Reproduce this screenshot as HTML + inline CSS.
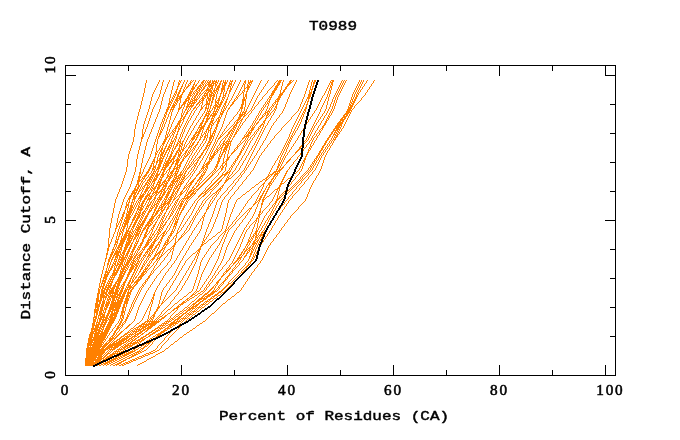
<!DOCTYPE html>
<html><head><meta charset="utf-8"><title>T0989</title>
<style>
html,body{margin:0;padding:0;background:#fff;}
body{width:680px;height:440px;overflow:hidden;position:relative;}
svg{position:absolute;left:0;top:0;display:block;}
.o{fill:none;stroke:#ff8000;stroke-width:1;shape-rendering:crispEdges;}
.k{fill:none;stroke:#000;stroke-width:1;shape-rendering:crispEdges;}
.f{fill:none;stroke:#000;stroke-width:1;shape-rendering:crispEdges;}
.m{font-family:"Liberation Mono","DejaVu Sans Mono",monospace;font-weight:normal;font-size:13.7px;fill:#000;stroke:#000;stroke-width:0.45px;}
.t{font-family:"Liberation Serif","DejaVu Serif",serif;font-weight:normal;font-size:15.2px;fill:#000;stroke:#000;stroke-width:0.55px;letter-spacing:1.8px;}
</style></head><body>
<svg width="680" height="440" viewBox="0 0 680 440">
<rect x="0" y="0" width="680" height="440" fill="#fff"/>
<g id="curves">
<path class="o" d="M146 80.5h1m12 0h1m3 0h1m5 0h1m4 0h1m4 0h1m1 0h1m2 0h1m2 0h1m3 0h1m1 0h1m1 0h1m3 0h1m3 0h2m1 0h1m1 0h1m1 0h1m1 0h1m1 0h1m1 0h1m1 0h1m2 0h1m1 0h1m1 0h1m1 0h1m2 0h1m1 0h1m2 0h1m4 0h1m4 0h1m2 0h1m1 0h1m1 0h1m8 0h1m6 0h1m8 0h1m1 0h3m1 0h1m6 0h2m1 0h1m2 0h1m12 0h1m2 0h1m1 0h2m15 0h3m8 0h1m1 0h1m1 0h1m12 0h1m1 0h1m1 0h1m3 0h1m6 0h1m-229 1h1m12 0h1m3 0h1m5 0h1m4 0h1m4 0h2m3 0h1m2 0h1m2 0h1m1 0h1m2 0h1m2 0h1m3 0h2m1 0h1m1 0h1m1 0h2m1 0h5m1 0h1m1 0h2m1 0h1m1 0h1m1 0h1m2 0h3m2 0h1m4 0h1m3 0h2m2 0h1m1 0h3m7 0h1m6 0h1m8 0h1m1 0h3m2 0h1m5 0h2m1 0h1m3 0h1m12 0h1m2 0h1m1 0h2m14 0h1m1 0h2m7 0h1m1 0h1m1 0h1m13 0h1m1 0h1m1 0h1m2 0h1m6 0h1m-228 1h1m11 0h1m3 0h1m5 0h1m4 0h1m4 0h1m1 0h1m2 0h1m2 0h1m3 0h2m2 0h1m3 0h1m2 0h3m1 0h1m1 0h4m1 0h2m1 0h3m2 0h1m2 0h4m2 0h1m1 0h1m2 0h1m4 0h1m4 0h2m2 0h4m8 0h1m6 0h1m7 0h1m2 0h3m1 0h1m6 0h3m3 0h1m12 0h1m2 0h1m1 0h2m15 0h3m8 0h1m1 0h1m1 0h1m12 0h1m1 0h1m1 0h1m3 0h1m6 0h1m-229 1h1m12 0h1m3 0h1m5 0h1m4 0h1m4 0h2m3 0h1m2 0h1m2 0h2m3 0h1m2 0h1m3 0h2m1 0h1m1 0h1m1 0h2m1 0h5m1 0h1m1 0h2m1 0h1m1 0h3m2 0h3m2 0h1m4 0h1m3 0h1m1 0h1m2 0h2m1 0h1m7 0h1m6 0h1m7 0h1m2 0h3m2 0h1m5 0h3m4 0h1m12 0h1m2 0h1m1 0h2m14 0h1m1 0h2m7 0h1m1 0h1m1 0h1m13 0h1m1 0h1m1 0h1m2 0h1m6 0h1m-228 1h1m11 0h1m4 0h1m4 0h1m5 0h1m4 0h2m2 0h1m2 0h1m2 0h1m1 0h1m2 0h2m1 0h1m3 0h1m1 0h2m1 0h1m1 0h5m1 0h1m1 0h2m2 0h2m1 0h1m1 0h2m3 0h3m1 0h1m4 0h1m4 0h2m2 0h1m1 0h2m8 0h1m5 0h1m8 0h1m2 0h3m2 0h1m4 0h3m4 0h1m13 0h1m2 0h1m1 0h1m15 0h1m1 0h2m7 0h1m1 0h1m1 0h1m12 0h1m1 0h1m1 0h1m2 0h1m6 0h1m-227 1h1m11 0h1m4 0h1m4 0h1m5 0h1m4 0h1m3 0h1m2 0h1m2 0h2m3 0h1m1 0h2m2 0h3m1 0h1m1 0h2m1 0h6m1 0h2m1 0h2m2 0h4m2 0h2m1 0h1m1 0h1m4 0h1m3 0h1m1 0h1m2 0h2m1 0h1m7 0h1m6 0h1m7 0h1m2 0h3m3 0h1m4 0h2m5 0h1m12 0h1m3 0h1m1 0h1m14 0h1m1 0h1m1 0h1m6 0h1m1 0h1m1 0h1m13 0h1m1 0h1m1 0h1m2 0h1m6 0h1m-227 1h1m10 0h1m4 0h1m5 0h1m4 0h1m4 0h2m2 0h2m2 0h1m1 0h2m3 0h2m1 0h1m2 0h3m1 0h1m1 0h2m2 0h5m2 0h1m1 0h3m2 0h3m3 0h3m1 0h1m4 0h1m4 0h1m1 0h1m2 0h3m8 0h1m5 0h1m7 0h1m2 0h3m3 0h1m4 0h2m5 0h1m13 0h1m2 0h1m1 0h2m14 0h1m1 0h2m7 0h1m1 0h1m1 0h1m12 0h1m1 0h1m1 0h1m2 0h1m6 0h1m-226 1h1m10 0h1m4 0h1m4 0h1m5 0h1m4 0h1m3 0h1m2 0h1m1 0h2m4 0h3m2 0h2m1 0h2m1 0h2m2 0h1m1 0h1m1 0h2m2 0h1m1 0h3m2 0h3m3 0h1m1 0h1m1 0h1m4 0h1m3 0h1m2 0h1m1 0h4m7 0h1m5 0h1m7 0h1m3 0h3m3 0h1m3 0h2m6 0h1m13 0h1m2 0h1m1 0h1m14 0h1m2 0h2m6 0h1m1 0h1m1 0h1m13 0h1m1 0h1m1 0h1m1 0h1m6 0h1m-226 1h1m10 0h1m5 0h1m4 0h1m5 0h1m4 0h1m2 0h2m2 0h1m1 0h1m4 0h4m2 0h3m1 0h1m1 0h2m2 0h2m1 0h3m1 0h1m1 0h3m2 0h4m2 0h2m1 0h2m4 0h1m4 0h1m2 0h2m1 0h2m8 0h1m5 0h1m6 0h1m3 0h3m4 0h1m3 0h2m5 0h1m13 0h1m3 0h1m1 0h1m14 0h1m1 0h1m1 0h1m6 0h1m1 0h1m1 0h1m12 0h1m1 0h1m1 0h1m2 0h1m6 0h1m-226 1h1m10 0h1m5 0h1m3 0h1m6 0h1m3 0h2m2 0h1m2 0h1m1 0h1m5 0h3m2 0h2m1 0h2m1 0h2m2 0h5m1 0h1m1 0h1m1 0h3m2 0h4m2 0h1m2 0h2m4 0h1m3 0h1m3 0h1m2 0h2m7 0h1m5 0h1m6 0h1m4 0h3m4 0h1m2 0h2m6 0h1m13 0h1m3 0h3m13 0h1m2 0h1m1 0h1m5 0h1m1 0h1m1 0h1m13 0h1m1 0h1m1 0h1m1 0h1m6 0h1m-225 1h1m9 0h1m5 0h1m4 0h1m5 0h1m4 0h1m2 0h2m2 0h2m5 0h1m1 0h1m2 0h2m1 0h2m1 0h2m2 0h7m1 0h4m1 0h1m2 0h2m1 0h1m2 0h1m1 0h2m4 0h1m4 0h1m2 0h2m2 0h1m8 0h1m4 0h1m6 0h1m4 0h3m4 0h1m2 0h2m6 0h1m14 0h1m2 0h1m1 0h1m14 0h1m2 0h2m6 0h1m1 0h1m1 0h1m12 0h1m1 0h1m1 0h1m1 0h1m6 0h1m-224 1h1m9 0h1m5 0h1m4 0h1m5 0h1m3 0h2m2 0h2m2 0h2m5 0h3m1 0h1m1 0h2m1 0h1m1 0h1m2 0h1m1 0h1m1 0h4m1 0h2m1 0h2m3 0h2m1 0h1m1 0h1m2 0h2m4 0h1m3 0h1m2 0h1m1 0h1m1 0h2m7 0h1m5 0h1m5 0h1m4 0h3m5 0h1m2 0h2m6 0h1m13 0h1m3 0h1m1 0h1m13 0h1m2 0h1m1 0h1m5 0h1m1 0h1m1 0h1m13 0h1m1 0h1m1 0h1m1 0h1m6 0h1m-224 1h1m8 0h1m6 0h1m3 0h1m6 0h1m3 0h2m1 0h2m2 0h2m5 0h3m1 0h1m1 0h1m1 0h2m1 0h1m2 0h1m1 0h1m1 0h2m1 0h3m1 0h2m1 0h1m3 0h1m1 0h1m2 0h1m2 0h1m4 0h1m4 0h1m2 0h2m2 0h1m8 0h1m4 0h1m6 0h1m4 0h3m5 0h1m1 0h2m6 0h1m14 0h1m3 0h3m13 0h1m2 0h1m1 0h1m5 0h1m1 0h1m1 0h1m12 0h1m1 0h1m1 0h1m1 0h1m6 0h1m-224 1h1m9 0h1m6 0h1m3 0h1m6 0h1m2 0h1m1 0h1m1 0h2m2 0h1m6 0h3m1 0h2m1 0h2m1 0h2m1 0h1m1 0h4m1 0h1m1 0h3m1 0h1m1 0h1m2 0h2m1 0h1m1 0h2m2 0h1m4 0h1m3 0h1m2 0h1m1 0h1m2 0h1m7 0h1m4 0h1m6 0h1m4 0h3m6 0h3m7 0h1m14 0h1m3 0h3m12 0h1m3 0h1m1 0h1m4 0h1m1 0h1m1 0h1m13 0h1m1 0h1m1 0h2m6 0h1m-223 1h1m8 0h1m6 0h1m3 0h1m6 0h1m3 0h2m1 0h2m2 0h2m5 0h3m1 0h1m1 0h1m1 0h2m1 0h1m1 0h1m2 0h1m1 0h2m1 0h3m1 0h2m1 0h1m3 0h1m2 0h1m1 0h1m2 0h1m4 0h1m4 0h1m1 0h1m2 0h1m1 0h2m7 0h1m4 0h1m5 0h1m5 0h3m5 0h4m6 0h1m14 0h1m3 0h3m13 0h1m2 0h1m1 0h1m5 0h1m1 0h1m1 0h1m12 0h1m1 0h1m1 0h1m1 0h1m6 0h1m-223 1h1m8 0h1m6 0h1m3 0h1m6 0h1m2 0h1m1 0h1m1 0h2m1 0h2m6 0h4m1 0h1m1 0h2m1 0h1m1 0h1m2 0h5m1 0h6m1 0h1m3 0h1m2 0h3m2 0h1m4 0h1m3 0h1m1 0h1m3 0h1m1 0h2m6 0h1m4 0h1m5 0h1m5 0h3m6 0h3m7 0h1m14 0h1m3 0h3m12 0h1m3 0h1m1 0h1m4 0h1m1 0h1m1 0h1m13 0h1m1 0h1m1 0h2m6 0h1m-222 1h1m8 0h1m6 0h1m3 0h1m6 0h1m2 0h2m2 0h5m5 0h2m1 0h1m1 0h1m1 0h2m1 0h1m1 0h1m2 0h1m1 0h2m1 0h1m1 0h3m1 0h2m1 0h1m2 0h2m2 0h1m1 0h1m2 0h1m3 0h1m3 0h1m1 0h1m4 0h1m1 0h2m6 0h1m3 0h1m5 0h1m5 0h1m1 0h1m6 0h3m8 0h1m14 0h1m3 0h3m11 0h1m4 0h1m1 0h1m4 0h1m1 0h1m1 0h1m13 0h1m1 0h1m1 0h2m5 0h1m-222 1h1m8 0h1m6 0h1m3 0h1m7 0h1m1 0h1m1 0h1m1 0h2m1 0h3m5 0h3m2 0h1m1 0h2m1 0h1m1 0h1m2 0h2m1 0h1m1 0h2m1 0h1m1 0h2m2 0h1m2 0h1m2 0h3m2 0h1m4 0h1m3 0h2m5 0h2m1 0h1m5 0h1m4 0h1m4 0h1m6 0h3m6 0h3m7 0h1m14 0h1m3 0h3m12 0h1m3 0h1m1 0h1m4 0h1m1 0h1m1 0h1m13 0h1m1 0h1m1 0h2m5 0h1m-221 1h1m8 0h1m6 0h1m3 0h1m6 0h1m2 0h2m2 0h5m5 0h4m1 0h1m1 0h2m1 0h1m1 0h1m2 0h4m2 0h4m1 0h2m2 0h1m1 0h2m2 0h1m1 0h1m2 0h1m3 0h1m3 0h1m1 0h1m5 0h2m1 0h1m5 0h1m3 0h1m5 0h1m5 0h1m1 0h1m6 0h3m8 0h1m14 0h1m3 0h3m11 0h1m4 0h1m1 0h1m4 0h1m1 0h1m1 0h1m13 0h1m1 0h1m1 0h2m4 0h1m-220 1h1m8 0h1m5 0h1m4 0h1m6 0h1m1 0h1m1 0h1m1 0h3m1 0h2m4 0h2m1 0h2m1 0h2m1 0h4m2 0h1m1 0h2m2 0h1m1 0h3m1 0h2m1 0h1m2 0h2m2 0h2m2 0h2m3 0h1m2 0h1m1 0h1m5 0h4m5 0h1m4 0h1m4 0h1m5 0h1m1 0h2m5 0h4m7 0h1m14 0h1m3 0h1m1 0h1m12 0h1m3 0h1m2 0h1m3 0h1m2 0h1m1 0h1m13 0h2m1 0h2m5 0h1m-220 1h1m8 0h1m5 0h1m4 0h1m6 0h1m1 0h2m2 0h4m1 0h1m4 0h4m1 0h1m1 0h5m2 0h1m1 0h3m2 0h1m1 0h3m1 0h1m2 0h1m1 0h3m1 0h1m1 0h1m2 0h1m3 0h1m3 0h2m6 0h4m5 0h1m3 0h1m4 0h1m6 0h1m1 0h1m5 0h1m1 0h2m8 0h1m14 0h1m3 0h1m1 0h1m11 0h1m4 0h1m2 0h1m3 0h1m1 0h1m1 0h1m13 0h1m1 0h1m1 0h2m4 0h1m-220 1h1m8 0h1m5 0h1m4 0h1m7 0h2m1 0h1m1 0h1m1 0h2m2 0h1m3 0h3m1 0h1m1 0h3m1 0h1m1 0h1m2 0h2m1 0h1m3 0h2m1 0h1m1 0h2m2 0h2m1 0h1m2 0h2m2 0h2m2 0h1m3 0h2m7 0h2m1 0h1m4 0h1m4 0h1m3 0h1m6 0h1m1 0h2m5 0h4m8 0h1m14 0h1m2 0h1m1 0h2m11 0h1m3 0h1m2 0h1m4 0h1m1 0h1m1 0h1m13 0h1m1 0h3m4 0h1m-219 1h1m8 0h1m5 0h1m4 0h1m7 0h3m2 0h2m1 0h1m2 0h1m2 0h3m2 0h3m1 0h4m2 0h2m1 0h2m3 0h2m1 0h1m1 0h2m2 0h4m1 0h3m2 0h2m2 0h1m2 0h2m8 0h2m1 0h1m4 0h1m3 0h1m3 0h1m6 0h1m1 0h1m1 0h1m4 0h2m1 0h1m8 0h1m14 0h1m3 0h1m1 0h1m11 0h1m4 0h1m2 0h1m3 0h1m2 0h1m1 0h1m13 0h2m1 0h2m3 0h1m-218 1h1m8 0h1m4 0h1m5 0h1m6 0h2m1 0h1m1 0h1m1 0h2m2 0h1m3 0h3m1 0h1m1 0h6m2 0h2m1 0h1m1 0h1m3 0h4m1 0h1m3 0h1m1 0h2m1 0h2m2 0h2m2 0h1m3 0h2m8 0h2m1 0h1m3 0h1m4 0h1m3 0h1m6 0h1m1 0h2m4 0h1m1 0h1m1 0h1m8 0h1m14 0h1m2 0h1m2 0h1m11 0h1m3 0h1m3 0h1m3 0h1m1 0h1m1 0h1m13 0h1m1 0h3m3 0h1m-217 1h1m8 0h1m4 0h1m5 0h1m6 0h3m2 0h2m1 0h1m2 0h1m2 0h3m2 0h3m1 0h1m1 0h1m2 0h2m1 0h1m2 0h1m2 0h5m1 0h1m3 0h2m1 0h4m2 0h2m2 0h1m2 0h2m8 0h3m1 0h1m3 0h1m3 0h1m3 0h1m6 0h1m1 0h1m1 0h1m3 0h1m1 0h1m1 0h2m7 0h1m14 0h1m3 0h1m1 0h2m10 0h1m4 0h1m3 0h1m2 0h1m2 0h1m1 0h1m13 0h2m1 0h2m2 0h1m-217 1h1m8 0h1m4 0h1m5 0h1m7 0h1m1 0h1m1 0h4m3 0h1m1 0h2m1 0h1m2 0h2m1 0h4m2 0h1m2 0h1m1 0h1m2 0h1m1 0h1m1 0h1m1 0h2m2 0h4m1 0h2m2 0h1m1 0h1m1 0h1m2 0h2m9 0h2m2 0h1m2 0h1m4 0h1m2 0h1m6 0h1m1 0h1m2 0h1m3 0h2m2 0h1m8 0h1m14 0h1m2 0h1m2 0h1m11 0h1m3 0h1m3 0h1m3 0h1m2 0h1m1 0h1m13 0h4m2 0h1m-216 1h1m8 0h1m4 0h1m5 0h1m7 0h2m2 0h3m4 0h1m1 0h1m2 0h1m1 0h7m2 0h1m2 0h1m2 0h1m1 0h1m2 0h1m1 0h1m1 0h1m2 0h1m1 0h6m2 0h2m1 0h1m3 0h1m10 0h2m2 0h1m2 0h1m3 0h1m2 0h1m7 0h1m1 0h1m1 0h1m3 0h1m1 0h1m1 0h2m8 0h1m14 0h1m2 0h1m2 0h1m10 0h1m4 0h1m3 0h1m3 0h1m1 0h1m1 0h1m13 0h1m1 0h3m1 0h1m-215 1h1m8 0h1m3 0h1m6 0h1m6 0h3m1 0h4m4 0h3m1 0h1m2 0h2m1 0h1m1 0h1m2 0h2m1 0h1m3 0h2m2 0h2m1 0h1m1 0h1m2 0h3m1 0h3m2 0h1m1 0h1m1 0h1m2 0h1m10 0h3m1 0h1m2 0h1m4 0h1m1 0h1m7 0h1m1 0h1m2 0h1m2 0h1m1 0h1m2 0h2m7 0h1m14 0h1m2 0h1m2 0h2m10 0h1m3 0h1m4 0h1m2 0h1m2 0h1m1 0h1m13 0h4m2 0h1m-215 1h1m8 0h1m3 0h1m6 0h1m6 0h2m2 0h1m1 0h1m4 0h3m2 0h1m2 0h1m1 0h1m1 0h1m2 0h2m1 0h1m4 0h2m2 0h4m1 0h1m1 0h1m1 0h2m1 0h1m1 0h1m2 0h1m1 0h2m2 0h2m10 0h3m1 0h1m2 0h1m3 0h1m2 0h1m6 0h1m1 0h1m3 0h1m1 0h1m1 0h1m2 0h1m1 0h1m7 0h1m14 0h1m2 0h1m2 0h2m9 0h1m4 0h1m4 0h1m2 0h1m2 0h1m1 0h1m13 0h4m1 0h1m-215 1h1m8 0h1m3 0h1m6 0h1m6 0h3m1 0h4m4 0h2m2 0h1m2 0h2m1 0h1m1 0h1m2 0h1m2 0h1m3 0h2m3 0h1m1 0h1m1 0h1m2 0h1m1 0h1m1 0h3m2 0h1m1 0h1m1 0h1m2 0h1m10 0h1m1 0h1m2 0h1m1 0h1m4 0h1m1 0h1m7 0h1m1 0h1m2 0h1m2 0h1m1 0h1m2 0h2m7 0h1m14 0h1m2 0h1m2 0h2m10 0h1m3 0h1m4 0h1m2 0h1m2 0h1m1 0h1m13 0h4m1 0h1m-214 1h1m8 0h1m3 0h1m6 0h1m6 0h2m2 0h1m1 0h1m5 0h1m3 0h1m2 0h1m1 0h1m1 0h1m2 0h1m2 0h1m4 0h1m4 0h1m1 0h1m1 0h1m1 0h1m2 0h1m1 0h1m1 0h1m2 0h1m1 0h2m2 0h1m11 0h1m1 0h1m2 0h1m1 0h1m3 0h1m1 0h1m7 0h1m1 0h1m3 0h1m1 0h1m1 0h1m2 0h1m1 0h1m7 0h1m14 0h1m2 0h1m2 0h2m9 0h1m4 0h1m4 0h1m2 0h1m2 0h1m1 0h1m13 0h5m-213 1h1m8 0h1m3 0h1m6 0h1m6 0h2m2 0h1m1 0h1m5 0h1m3 0h1m1 0h1m2 0h2m2 0h1m2 0h1m4 0h1m4 0h1m2 0h4m2 0h5m3 0h3m3 0h1m10 0h1m2 0h1m1 0h1m1 0h2m2 0h1m1 0h1m7 0h1m1 0h1m3 0h1m1 0h3m2 0h1m1 0h1m7 0h1m14 0h1m2 0h1m2 0h1m1 0h1m8 0h1m5 0h1m3 0h1m2 0h1m2 0h1m1 0h1m13 0h4m1 0h1m-214 1h1m8 0h1m3 0h1m6 0h1m6 0h2m2 0h1m1 0h1m5 0h1m4 0h1m1 0h1m1 0h2m3 0h1m2 0h1m4 0h1m4 0h1m1 0h1m1 0h1m1 0h1m2 0h1m1 0h1m1 0h1m2 0h1m1 0h2m2 0h1m10 0h1m2 0h1m1 0h4m2 0h1m2 0h1m7 0h1m1 0h1m3 0h3m1 0h1m1 0h1m2 0h1m7 0h1m13 0h1m3 0h1m2 0h2m9 0h1m4 0h1m4 0h1m2 0h1m2 0h1m1 0h1m13 0h5m-213 1h1m8 0h1m3 0h1m6 0h1m6 0h2m2 0h1m1 0h1m5 0h1m3 0h1m1 0h1m2 0h2m2 0h1m2 0h1m4 0h1m4 0h1m2 0h4m2 0h5m3 0h3m3 0h1m10 0h1m2 0h1m1 0h1m1 0h2m1 0h1m2 0h1m7 0h1m1 0h1m3 0h2m1 0h2m1 0h1m2 0h1m7 0h1m13 0h1m3 0h1m2 0h1m1 0h1m8 0h1m5 0h1m3 0h1m2 0h1m2 0h1m1 0h1m13 0h4m1 0h1m-213 1h1m8 0h1m3 0h1m5 0h1m6 0h1m1 0h1m1 0h1m2 0h1m4 0h1m4 0h1m1 0h1m1 0h2m3 0h1m2 0h1m4 0h1m3 0h1m2 0h2m1 0h2m1 0h1m1 0h4m3 0h3m3 0h1m9 0h1m2 0h6m1 0h1m2 0h1m8 0h1m1 0h1m2 0h1m1 0h1m1 0h2m1 0h1m2 0h1m6 0h1m13 0h1m4 0h1m2 0h2m8 0h1m5 0h1m3 0h1m3 0h1m2 0h1m1 0h1m12 0h4m1 0h1m-212 1h1m7 0h1m3 0h1m6 0h1m6 0h2m2 0h1m2 0h1m4 0h1m4 0h2m2 0h1m3 0h1m2 0h1m4 0h1m4 0h1m2 0h4m1 0h6m3 0h1m1 0h1m3 0h1m9 0h1m3 0h4m1 0h2m2 0h1m8 0h1m1 0h1m2 0h1m1 0h1m1 0h2m1 0h1m2 0h1m6 0h1m13 0h1m4 0h1m2 0h1m1 0h1m8 0h1m5 0h1m3 0h1m2 0h1m2 0h1m1 0h1m12 0h2m1 0h2m1 0h1m-213 1h1m8 0h1m3 0h1m6 0h1m6 0h2m2 0h1m1 0h1m4 0h1m5 0h2m1 0h2m3 0h1m1 0h1m4 0h1m4 0h1m2 0h2m1 0h2m1 0h1m1 0h3m4 0h1m1 0h1m3 0h1m8 0h1m4 0h3m1 0h2m3 0h1m7 0h1m1 0h1m3 0h2m2 0h1m1 0h1m2 0h1m7 0h1m12 0h1m5 0h1m2 0h1m1 0h1m7 0h1m5 0h1m3 0h1m2 0h1m3 0h2m13 0h4m1 0h1m-212 1h1m8 0h1m3 0h1m5 0h1m6 0h1m1 0h1m1 0h1m2 0h1m4 0h1m5 0h1m1 0h2m3 0h1m2 0h1m4 0h1m3 0h1m3 0h1m2 0h1m1 0h1m2 0h1m1 0h1m3 0h3m4 0h1m7 0h1m4 0h3m2 0h1m3 0h1m8 0h1m1 0h1m2 0h2m3 0h2m3 0h1m6 0h1m12 0h1m5 0h1m2 0h1m1 0h1m7 0h1m6 0h1m2 0h1m3 0h1m2 0h1m1 0h1m12 0h4m2 0h1m-212 1h1m7 0h1m3 0h1m6 0h1m6 0h2m2 0h1m2 0h1m3 0h1m5 0h2m1 0h2m3 0h1m1 0h1m4 0h1m4 0h1m2 0h2m1 0h4m1 0h3m3 0h2m1 0h1m3 0h1m8 0h1m4 0h3m1 0h1m3 0h1m8 0h1m1 0h1m2 0h2m3 0h2m3 0h1m6 0h1m13 0h1m5 0h1m2 0h1m1 0h1m7 0h1m5 0h1m3 0h1m2 0h1m3 0h2m12 0h2m1 0h2m1 0h1m-211 1h1m7 0h1m3 0h1m5 0h1m6 0h1m1 0h1m1 0h1m3 0h1m3 0h1m5 0h1m1 0h2m3 0h1m2 0h1m4 0h1m3 0h1m3 0h1m2 0h3m2 0h1m1 0h1m2 0h1m1 0h2m4 0h1m7 0h1m4 0h3m1 0h2m2 0h1m9 0h1m1 0h1m1 0h2m4 0h1m4 0h1m5 0h1m13 0h1m5 0h1m2 0h1m1 0h1m7 0h1m6 0h1m2 0h1m3 0h1m2 0h1m1 0h1m11 0h5m2 0h1m-212 1h1m8 0h1m3 0h1m5 0h1m6 0h1m1 0h1m1 0h1m2 0h1m3 0h1m5 0h3m1 0h1m3 0h1m1 0h1m4 0h1m3 0h1m3 0h2m2 0h2m3 0h3m2 0h1m1 0h2m4 0h1m6 0h1m4 0h3m1 0h2m3 0h1m8 0h1m1 0h1m2 0h1m4 0h2m3 0h1m6 0h1m12 0h1m6 0h1m2 0h1m1 0h1m6 0h1m6 0h1m2 0h1m3 0h1m3 0h2m12 0h4m2 0h1m-211 1h1m7 0h1m3 0h1m6 0h1m6 0h2m2 0h1m2 0h1m3 0h1m4 0h3m2 0h1m2 0h1m1 0h1m4 0h1m4 0h1m3 0h2m1 0h3m2 0h3m2 0h1m1 0h3m3 0h1m6 0h1m4 0h1m1 0h1m1 0h1m1 0h1m2 0h1m8 0h1m1 0h1m2 0h1m4 0h2m3 0h1m6 0h1m12 0h1m6 0h1m2 0h1m2 0h1m6 0h1m6 0h1m2 0h1m2 0h1m3 0h2m12 0h2m1 0h2m2 0h1m-211 1h1m7 0h1m3 0h1m5 0h1m6 0h1m1 0h1m1 0h1m3 0h1m2 0h1m5 0h3m1 0h1m3 0h1m1 0h1m4 0h1m3 0h1m3 0h2m2 0h2m3 0h3m1 0h1m2 0h2m4 0h1m5 0h1m4 0h1m1 0h3m1 0h1m2 0h1m9 0h1m1 0h1m1 0h2m4 0h2m3 0h1m5 0h1m12 0h1m7 0h1m2 0h1m1 0h1m6 0h1m6 0h1m2 0h1m3 0h1m3 0h2m11 0h5m2 0h1m-210 1h1m7 0h1m3 0h1m5 0h1m6 0h1m1 0h1m1 0h1m3 0h1m2 0h1m4 0h3m2 0h1m2 0h1m1 0h1m4 0h1m3 0h1m3 0h3m1 0h2m3 0h2m1 0h2m3 0h2m4 0h1m5 0h1m4 0h1m1 0h2m2 0h1m1 0h1m9 0h1m1 0h1m1 0h2m4 0h1m1 0h1m2 0h1m5 0h1m12 0h1m7 0h1m2 0h1m2 0h1m5 0h1m7 0h1m1 0h1m3 0h1m3 0h2m11 0h6m2 0h1m-211 1h1m7 0h1m3 0h1m5 0h1m6 0h1m1 0h1m1 0h1m3 0h1m2 0h1m5 0h3m1 0h1m3 0h1m1 0h1m4 0h1m3 0h1m3 0h2m2 0h2m3 0h3m1 0h1m2 0h2m4 0h1m5 0h1m4 0h1m1 0h2m2 0h1m2 0h1m9 0h1m1 0h1m1 0h1m4 0h3m3 0h1m5 0h1m11 0h1m8 0h1m2 0h1m1 0h1m6 0h1m6 0h1m2 0h1m3 0h1m3 0h2m11 0h5m2 0h1m-210 1h1m7 0h1m3 0h1m5 0h1m6 0h1m1 0h1m1 0h1m3 0h1m2 0h1m4 0h2m1 0h1m1 0h1m2 0h1m1 0h1m4 0h1m3 0h1m3 0h3m1 0h2m3 0h2m1 0h2m3 0h2m4 0h1m4 0h1m4 0h1m1 0h3m2 0h1m1 0h1m9 0h1m1 0h1m1 0h1m4 0h2m1 0h1m2 0h1m5 0h1m11 0h1m8 0h1m2 0h1m2 0h1m5 0h1m7 0h1m1 0h1m3 0h1m3 0h2m11 0h6m2 0h1m-210 1h1m7 0h1m3 0h1m5 0h1m6 0h1m1 0h1m1 0h1m3 0h1m2 0h1m3 0h3m1 0h2m3 0h1m1 0h1m3 0h1m3 0h1m4 0h1m1 0h4m3 0h2m1 0h1m4 0h2m4 0h1m3 0h1m4 0h1m1 0h2m1 0h1m1 0h1m1 0h1m9 0h1m1 0h1m1 0h1m4 0h2m2 0h1m1 0h1m5 0h1m11 0h1m9 0h1m2 0h1m1 0h1m5 0h1m7 0h1m1 0h1m3 0h1m3 0h2m11 0h5m1 0h1m1 0h1m-209 1h1m7 0h1m2 0h1m5 0h1m6 0h1m1 0h1m1 0h1m3 0h1m2 0h1m4 0h2m1 0h1m1 0h1m2 0h1m1 0h1m4 0h1m3 0h1m3 0h6m3 0h3m1 0h1m3 0h2m4 0h1m4 0h1m3 0h1m2 0h3m2 0h1m1 0h1m9 0h1m1 0h3m3 0h1m1 0h1m1 0h1m2 0h1m5 0h1m10 0h1m9 0h1m2 0h1m2 0h1m5 0h1m7 0h1m1 0h1m3 0h1m3 0h2m11 0h6m2 0h1m-209 1h1m7 0h1m2 0h1m5 0h1m6 0h1m1 0h1m1 0h1m3 0h1m2 0h1m3 0h3m1 0h2m3 0h1m1 0h1m3 0h1m3 0h1m4 0h1m1 0h4m3 0h2m1 0h2m3 0h2m4 0h1m3 0h1m3 0h1m2 0h2m1 0h1m1 0h1m1 0h1m9 0h1m1 0h3m4 0h2m2 0h1m1 0h1m5 0h1m10 0h1m10 0h1m2 0h1m1 0h1m5 0h1m7 0h1m1 0h1m3 0h1m3 0h2m11 0h5m1 0h1m1 0h1m-209 1h1m7 0h1m2 0h1m5 0h1m7 0h1m1 0h2m4 0h1m1 0h1m3 0h1m1 0h1m2 0h2m2 0h1m1 0h1m4 0h1m3 0h1m3 0h1m1 0h3m1 0h1m2 0h3m1 0h1m3 0h1m1 0h1m3 0h1m3 0h1m3 0h1m2 0h1m1 0h2m2 0h2m9 0h1m2 0h3m3 0h2m2 0h1m2 0h1m5 0h1m10 0h1m9 0h1m2 0h1m2 0h1m5 0h1m7 0h1m1 0h1m3 0h1m2 0h1m1 0h1m10 0h2m1 0h4m1 0h1m-208 1h1m7 0h1m2 0h1m5 0h1m6 0h1m1 0h1m1 0h1m4 0h1m1 0h1m2 0h1m1 0h2m2 0h1m3 0h1m1 0h1m3 0h1m3 0h1m4 0h1m1 0h2m1 0h1m3 0h1m1 0h3m3 0h2m4 0h1m3 0h1m2 0h1m2 0h3m1 0h1m1 0h1m1 0h1m9 0h1m1 0h3m3 0h1m1 0h1m2 0h1m1 0h1m5 0h1m10 0h1m10 0h1m2 0h1m1 0h1m5 0h1m7 0h1m1 0h1m3 0h1m2 0h1m1 0h1m11 0h5m1 0h1m1 0h1m-208 1h1m7 0h1m2 0h1m5 0h1m6 0h1m1 0h2m4 0h1m2 0h1m2 0h2m1 0h1m1 0h2m3 0h1m1 0h1m3 0h1m2 0h1m4 0h1m1 0h3m1 0h1m2 0h2m1 0h1m1 0h1m2 0h3m3 0h1m3 0h1m2 0h1m2 0h2m1 0h2m2 0h2m9 0h1m1 0h1m1 0h1m3 0h1m1 0h1m2 0h1m2 0h1m5 0h1m9 0h1m11 0h1m1 0h1m1 0h1m5 0h1m8 0h1m1 0h1m2 0h1m3 0h2m11 0h2m1 0h1m1 0h2m1 0h1m-207 1h1m7 0h1m1 0h1m5 0h1m7 0h1m1 0h2m4 0h1m1 0h1m2 0h1m1 0h2m2 0h1m3 0h1m1 0h1m3 0h1m3 0h1m3 0h5m2 0h1m1 0h1m1 0h1m1 0h1m1 0h1m2 0h1m1 0h1m3 0h1m2 0h1m2 0h1m2 0h2m1 0h1m1 0h1m1 0h2m9 0h1m1 0h4m2 0h1m1 0h1m3 0h1m1 0h1m5 0h1m9 0h1m11 0h1m2 0h1m1 0h1m5 0h1m7 0h1m1 0h1m3 0h1m2 0h1m1 0h1m10 0h2m1 0h3m1 0h2m-206 1h1m7 0h1m1 0h1m5 0h1m6 0h1m1 0h2m5 0h1m1 0h1m1 0h1m1 0h1m1 0h1m2 0h1m3 0h1m1 0h1m3 0h1m2 0h1m4 0h2m1 0h2m1 0h1m2 0h2m1 0h1m2 0h1m1 0h3m3 0h1m3 0h1m1 0h1m3 0h2m1 0h2m2 0h2m9 0h1m1 0h3m3 0h1m1 0h1m2 0h1m2 0h1m5 0h1m8 0h1m12 0h1m1 0h1m1 0h1m5 0h1m8 0h1m1 0h1m2 0h1m2 0h1m1 0h1m11 0h2m1 0h1m1 0h2m1 0h1m-206 1h1m7 0h2m5 0h1m7 0h1m1 0h2m5 0h2m1 0h1m2 0h2m2 0h2m2 0h1m1 0h1m3 0h1m3 0h1m3 0h2m1 0h2m2 0h1m1 0h1m1 0h1m1 0h1m2 0h1m1 0h1m1 0h1m3 0h1m2 0h1m1 0h1m3 0h2m1 0h1m1 0h1m1 0h2m9 0h1m1 0h2m1 0h1m2 0h1m1 0h1m3 0h1m1 0h1m5 0h1m8 0h1m12 0h1m2 0h1m1 0h1m5 0h1m7 0h1m1 0h1m3 0h1m1 0h1m2 0h1m10 0h2m1 0h3m1 0h2m-205 1h1m7 0h2m5 0h1m7 0h1m1 0h1m5 0h1m1 0h1m1 0h1m1 0h1m1 0h1m2 0h1m3 0h1m1 0h1m3 0h1m2 0h1m3 0h2m1 0h3m2 0h2m2 0h3m2 0h3m1 0h1m2 0h1m2 0h1m1 0h1m3 0h2m2 0h2m2 0h1m9 0h1m1 0h4m2 0h1m1 0h1m3 0h1m2 0h1m5 0h1m7 0h1m13 0h1m1 0h1m1 0h1m5 0h1m8 0h1m1 0h1m2 0h1m2 0h1m1 0h1m10 0h2m2 0h1m1 0h3m-204 1h1m7 0h2m5 0h1m6 0h1m1 0h2m5 0h1m1 0h2m1 0h1m2 0h1m1 0h2m3 0h1m1 0h1m2 0h1m2 0h1m4 0h3m1 0h1m2 0h1m1 0h1m1 0h2m1 0h1m2 0h4m3 0h1m2 0h2m3 0h1m1 0h1m1 0h1m1 0h1m1 0h2m9 0h5m2 0h1m2 0h1m3 0h1m1 0h1m5 0h1m7 0h1m14 0h1m1 0h2m5 0h1m8 0h1m1 0h1m2 0h1m2 0h1m1 0h1m11 0h2m1 0h1m1 0h1m1 0h2m-205 1h1m7 0h2m5 0h1m7 0h1m1 0h1m6 0h3m2 0h1m1 0h1m2 0h2m2 0h1m1 0h1m3 0h1m2 0h1m3 0h3m1 0h2m2 0h2m2 0h2m1 0h1m1 0h3m1 0h1m2 0h1m2 0h2m3 0h1m1 0h1m2 0h2m2 0h1m9 0h2m1 0h1m1 0h1m1 0h1m2 0h1m3 0h1m2 0h1m5 0h1m7 0h1m13 0h1m1 0h1m1 0h1m5 0h1m8 0h1m1 0h1m2 0h1m1 0h1m2 0h1m10 0h2m2 0h1m1 0h3m-204 1h1m7 0h2m5 0h1m7 0h1m1 0h1m6 0h2m2 0h1m2 0h1m1 0h1m1 0h1m2 0h1m1 0h1m2 0h1m2 0h1m3 0h4m1 0h1m3 0h1m3 0h1m1 0h1m2 0h3m1 0h1m2 0h1m1 0h2m3 0h1m1 0h1m2 0h1m1 0h1m1 0h1m9 0h2m1 0h1m1 0h1m2 0h1m1 0h1m4 0h1m1 0h1m5 0h1m7 0h1m14 0h1m1 0h2m5 0h1m8 0h1m1 0h1m2 0h1m1 0h1m2 0h1m10 0h2m2 0h1m1 0h1m1 0h1m-203 1h1m7 0h1m5 0h1m7 0h1m1 0h1m6 0h3m2 0h1m1 0h1m2 0h2m2 0h1m1 0h1m3 0h1m2 0h1m3 0h3m1 0h2m2 0h2m2 0h2m1 0h1m2 0h2m1 0h1m2 0h1m2 0h1m3 0h1m2 0h1m2 0h2m2 0h1m9 0h1m2 0h1m1 0h1m1 0h1m2 0h1m3 0h1m2 0h1m5 0h1m6 0h1m14 0h1m1 0h1m1 0h1m5 0h1m8 0h1m1 0h1m2 0h1m1 0h1m2 0h1m10 0h2m2 0h1m1 0h3m-203 1h1m7 0h1m5 0h1m7 0h1m1 0h1m6 0h2m2 0h1m2 0h1m1 0h1m1 0h1m2 0h1m1 0h1m2 0h1m2 0h1m3 0h1m1 0h1m2 0h1m3 0h1m3 0h1m2 0h1m2 0h2m1 0h1m2 0h1m1 0h1m3 0h1m2 0h1m2 0h1m1 0h1m1 0h1m9 0h1m2 0h1m1 0h1m1 0h1m2 0h1m4 0h1m1 0h1m5 0h1m6 0h1m15 0h1m1 0h2m5 0h1m8 0h1m1 0h1m2 0h1m1 0h1m2 0h1m10 0h2m2 0h1m1 0h1m1 0h1m-202 1h1m7 0h1m5 0h1m7 0h1m1 0h1m5 0h3m2 0h1m2 0h3m1 0h1m2 0h3m1 0h2m2 0h1m2 0h1m1 0h1m2 0h1m3 0h1m3 0h1m2 0h1m2 0h2m1 0h1m3 0h1m1 0h1m2 0h1m2 0h2m1 0h6m8 0h1m2 0h1m1 0h1m1 0h1m2 0h1m4 0h1m2 0h1m4 0h1m6 0h1m15 0h1m1 0h1m1 0h1m4 0h1m8 0h1m1 0h1m2 0h1m2 0h1m1 0h1m10 0h2m2 0h1m1 0h1m1 0h1m-202 1h1m7 0h1m5 0h1m7 0h1m2 0h1m5 0h2m2 0h1m2 0h1m1 0h1m1 0h1m2 0h1m1 0h2m1 0h1m2 0h1m3 0h1m1 0h1m1 0h2m2 0h2m3 0h1m2 0h1m2 0h4m2 0h1m1 0h1m3 0h1m2 0h1m1 0h2m1 0h1m1 0h1m9 0h1m1 0h1m2 0h1m1 0h1m2 0h1m4 0h1m1 0h1m5 0h1m6 0h1m15 0h1m1 0h2m5 0h1m7 0h1m1 0h1m3 0h1m1 0h1m2 0h1m10 0h2m2 0h1m1 0h1m1 0h1m-202 1h1m7 0h1m5 0h1m7 0h1m2 0h1m4 0h3m2 0h1m2 0h3m1 0h1m2 0h2m1 0h3m2 0h1m2 0h1m1 0h1m1 0h2m3 0h1m3 0h1m2 0h1m2 0h2m1 0h1m3 0h1m1 0h1m2 0h1m2 0h3m1 0h5m8 0h1m1 0h1m2 0h1m1 0h1m2 0h1m4 0h1m2 0h1m4 0h1m6 0h1m15 0h1m1 0h1m1 0h1m4 0h1m8 0h2m3 0h1m2 0h1m1 0h1m10 0h2m2 0h1m1 0h1m1 0h1m-201 1h1m7 0h1m5 0h1m7 0h1m1 0h1m5 0h2m2 0h1m2 0h1m1 0h1m2 0h1m1 0h2m1 0h1m1 0h2m1 0h1m2 0h1m2 0h1m1 0h2m2 0h2m2 0h1m2 0h1m3 0h1m1 0h2m2 0h1m1 0h1m3 0h1m1 0h1m1 0h3m1 0h2m1 0h1m7 0h1m1 0h1m3 0h1m1 0h1m2 0h1m4 0h1m1 0h1m5 0h1m5 0h1m16 0h1m1 0h2m4 0h1m8 0h2m3 0h1m2 0h1m2 0h1m10 0h2m1 0h1m1 0h1m2 0h1m-202 1h1m8 0h1m5 0h1m6 0h1m2 0h1m4 0h1m1 0h1m2 0h1m2 0h3m1 0h1m2 0h2m1 0h2m1 0h1m1 0h1m1 0h1m2 0h1m1 0h2m2 0h2m3 0h1m2 0h1m2 0h4m3 0h1m1 0h1m2 0h1m1 0h1m1 0h2m1 0h4m1 0h1m6 0h1m1 0h1m3 0h1m1 0h1m2 0h1m4 0h1m2 0h1m4 0h1m5 0h1m16 0h1m1 0h1m1 0h1m4 0h1m7 0h2m3 0h1m3 0h1m1 0h1m10 0h2m2 0h1m1 0h1m1 0h1m-201 1h1m7 0h1m5 0h1m7 0h1m2 0h1m3 0h1m1 0h1m2 0h2m1 0h2m1 0h1m1 0h1m1 0h2m2 0h3m2 0h1m1 0h1m2 0h3m2 0h2m3 0h1m2 0h1m3 0h2m1 0h1m2 0h1m1 0h1m2 0h1m2 0h1m1 0h1m2 0h3m1 0h1m7 0h2m4 0h2m3 0h1m3 0h1m2 0h1m4 0h1m6 0h1m16 0h1m1 0h1m1 0h1m3 0h1m7 0h2m4 0h1m3 0h2m10 0h2m2 0h1m1 0h1m1 0h1m-200 1h1m7 0h1m5 0h1m7 0h1m2 0h1m3 0h1m1 0h1m2 0h1m2 0h3m2 0h1m1 0h1m3 0h1m1 0h1m1 0h1m1 0h1m2 0h2m1 0h1m1 0h1m1 0h1m2 0h1m2 0h1m3 0h2m1 0h1m3 0h1m1 0h1m2 0h1m1 0h1m1 0h2m1 0h4m1 0h1m6 0h2m4 0h1m1 0h1m2 0h1m4 0h1m2 0h1m4 0h1m5 0h1m16 0h1m1 0h1m1 0h1m3 0h1m7 0h2m4 0h1m3 0h1m1 0h1m10 0h2m1 0h1m1 0h1m2 0h1m-201 1h1m8 0h1m5 0h1m6 0h1m3 0h1m2 0h1m1 0h2m1 0h2m1 0h2m1 0h1m1 0h1m1 0h2m2 0h2m1 0h1m1 0h2m3 0h1m1 0h1m2 0h2m3 0h1m2 0h1m3 0h2m1 0h1m2 0h1m1 0h1m2 0h1m1 0h1m1 0h2m2 0h3m2 0h1m5 0h1m1 0h1m4 0h2m3 0h1m3 0h1m2 0h1m4 0h1m5 0h1m17 0h1m1 0h1m1 0h1m3 0h1m7 0h2m3 0h1m4 0h2m10 0h2m2 0h1m1 0h1m1 0h1m-200 1h1m8 0h1m5 0h1m6 0h1m3 0h1m2 0h1m1 0h2m1 0h1m2 0h3m2 0h1m1 0h1m3 0h2m1 0h3m3 0h1m2 0h1m1 0h1m1 0h1m2 0h1m2 0h1m3 0h2m1 0h1m3 0h1m1 0h1m2 0h2m1 0h1m1 0h1m1 0h4m2 0h1m4 0h1m1 0h1m4 0h1m1 0h1m2 0h1m4 0h1m2 0h1m4 0h1m4 0h1m17 0h1m1 0h1m1 0h1m3 0h1m7 0h2m3 0h1m4 0h1m1 0h1m10 0h2m1 0h1m1 0h1m2 0h1m-200 1h1m7 0h1m5 0h1m7 0h1m3 0h1m1 0h1m1 0h2m1 0h2m1 0h2m1 0h1m2 0h2m3 0h4m1 0h2m2 0h2m1 0h1m1 0h1m1 0h1m2 0h1m2 0h1m3 0h2m2 0h1m2 0h1m1 0h1m2 0h1m1 0h2m2 0h1m1 0h2m1 0h1m1 0h1m5 0h2m5 0h2m3 0h1m3 0h1m2 0h1m4 0h1m5 0h1m17 0h1m1 0h1m1 0h1m2 0h1m7 0h2m4 0h1m4 0h2m10 0h2m1 0h1m1 0h1m2 0h1m-200 1h1m8 0h1m5 0h1m6 0h1m4 0h2m2 0h2m1 0h2m1 0h1m2 0h1m1 0h1m1 0h1m2 0h2m1 0h2m1 0h1m2 0h2m1 0h1m1 0h1m1 0h1m3 0h1m2 0h1m3 0h1m2 0h1m3 0h1m1 0h1m1 0h1m1 0h2m2 0h1m2 0h3m2 0h1m4 0h2m5 0h2m3 0h1m3 0h1m3 0h1m3 0h1m5 0h1m17 0h1m1 0h1m2 0h1m2 0h1m6 0h2m4 0h1m5 0h1m10 0h2m2 0h1m1 0h1m1 0h1m-199 1h1m8 0h1m5 0h1m6 0h1m3 0h1m1 0h1m1 0h1m1 0h3m1 0h2m1 0h1m2 0h2m3 0h3m1 0h2m3 0h2m1 0h2m2 0h1m2 0h1m2 0h1m3 0h2m2 0h1m2 0h1m1 0h1m2 0h2m1 0h1m2 0h1m1 0h2m1 0h1m2 0h1m3 0h2m6 0h2m3 0h1m3 0h1m2 0h1m4 0h1m4 0h1m18 0h1m1 0h1m1 0h1m2 0h1m6 0h2m4 0h1m5 0h2m10 0h2m1 0h1m1 0h1m2 0h1m-199 1h1m8 0h1m5 0h1m6 0h1m3 0h2m2 0h1m1 0h3m1 0h1m2 0h1m2 0h2m2 0h2m1 0h1m1 0h2m2 0h2m1 0h1m1 0h1m1 0h1m2 0h1m2 0h1m3 0h2m2 0h1m3 0h1m1 0h1m1 0h2m1 0h1m3 0h1m1 0h1m2 0h1m2 0h1m2 0h2m6 0h2m3 0h1m3 0h1m3 0h1m3 0h1m4 0h1m18 0h1m1 0h1m2 0h1m1 0h1m7 0h1m4 0h1m6 0h1m10 0h2m1 0h1m1 0h1m2 0h1m-199 1h1m8 0h1m5 0h1m6 0h1m4 0h2m1 0h1m1 0h3m1 0h2m1 0h1m2 0h2m3 0h2m1 0h3m2 0h1m1 0h1m1 0h2m2 0h1m2 0h1m2 0h1m3 0h2m2 0h1m2 0h1m1 0h1m2 0h3m3 0h1m1 0h2m1 0h1m2 0h1m3 0h1m7 0h2m3 0h1m3 0h1m2 0h1m4 0h1m4 0h1m18 0h1m1 0h1m1 0h1m2 0h1m6 0h1m5 0h1m5 0h2m10 0h2m1 0h1m1 0h1m2 0h1m-199 1h1m8 0h1m5 0h1m6 0h1m4 0h1m2 0h1m1 0h3m1 0h1m2 0h1m2 0h2m2 0h2m2 0h3m1 0h1m1 0h1m1 0h2m2 0h1m2 0h1m2 0h1m3 0h2m2 0h1m3 0h1m1 0h1m1 0h3m4 0h1m1 0h1m2 0h1m2 0h1m2 0h1m7 0h2m3 0h1m3 0h1m3 0h1m3 0h1m4 0h1m18 0h1m1 0h1m2 0h1m1 0h1m6 0h1m5 0h1m6 0h1m10 0h2m1 0h1m1 0h1m2 0h1m-198 1h1m8 0h1m5 0h1m6 0h1m4 0h1m2 0h1m1 0h1m1 0h3m2 0h1m1 0h3m1 0h3m2 0h2m1 0h1m2 0h3m2 0h1m2 0h1m2 0h1m3 0h2m2 0h1m3 0h1m2 0h4m5 0h3m2 0h1m2 0h1m1 0h1m7 0h2m3 0h1m3 0h1m3 0h1m3 0h1m4 0h1m18 0h1m2 0h1m1 0h1m1 0h1m6 0h1m5 0h1m6 0h2m9 0h2m1 0h1m1 0h1m3 0h1m-198 1h1m8 0h1m5 0h1m5 0h1m4 0h2m1 0h1m2 0h2m1 0h1m2 0h1m2 0h2m2 0h2m2 0h1m1 0h1m1 0h1m1 0h1m1 0h1m3 0h1m2 0h1m2 0h1m2 0h3m2 0h1m3 0h1m1 0h1m1 0h3m4 0h1m1 0h1m3 0h1m2 0h3m7 0h2m3 0h1m3 0h1m3 0h1m3 0h1m4 0h1m18 0h1m1 0h1m2 0h1m1 0h1m5 0h1m5 0h1m7 0h1m10 0h2m1 0h1m1 0h1m2 0h1m-197 1h1m8 0h1m4 0h1m6 0h1m4 0h1m2 0h1m1 0h5m2 0h1m1 0h3m1 0h3m2 0h2m1 0h1m2 0h2m3 0h1m2 0h1m2 0h1m2 0h1m1 0h1m2 0h1m3 0h1m2 0h4m5 0h3m2 0h1m3 0h2m7 0h2m3 0h1m3 0h1m3 0h1m3 0h1m4 0h1m18 0h1m2 0h1m1 0h1m1 0h1m5 0h1m6 0h1m6 0h2m9 0h2m1 0h1m1 0h1m3 0h1m-198 1h1m8 0h1m5 0h1m5 0h1m4 0h2m2 0h1m1 0h2m1 0h1m2 0h1m2 0h2m1 0h3m2 0h4m2 0h2m4 0h1m2 0h1m1 0h1m2 0h1m1 0h1m3 0h1m3 0h1m2 0h3m6 0h2m3 0h1m2 0h3m6 0h1m1 0h1m3 0h1m3 0h1m3 0h1m2 0h1m5 0h1m18 0h1m2 0h1m1 0h1m1 0h1m4 0h2m5 0h1m7 0h2m8 0h1m1 0h1m1 0h1m1 0h1m3 0h1m-198 1h1m8 0h1m5 0h1m5 0h1m4 0h2m2 0h6m2 0h1m1 0h5m1 0h1m1 0h5m2 0h2m3 0h1m2 0h1m2 0h1m1 0h1m1 0h2m2 0h1m3 0h1m3 0h1m1 0h1m6 0h2m3 0h1m2 0h2m7 0h2m3 0h1m3 0h1m3 0h1m3 0h1m4 0h1m18 0h1m2 0h1m1 0h1m1 0h1m4 0h2m5 0h1m7 0h2m9 0h2m1 0h1m1 0h1m3 0h1m-197 1h1m8 0h1m5 0h1m4 0h1m4 0h3m1 0h2m1 0h4m2 0h4m1 0h2m1 0h2m1 0h3m2 0h2m4 0h1m1 0h1m2 0h1m1 0h1m2 0h1m2 0h1m4 0h1m2 0h3m6 0h3m3 0h1m1 0h2m7 0h2m3 0h1m3 0h1m4 0h1m2 0h1m5 0h1m17 0h1m3 0h1m1 0h1m1 0h1m3 0h2m5 0h1m8 0h2m8 0h2m1 0h1m2 0h1m3 0h1m-197 1h1m8 0h1m5 0h1m4 0h1m4 0h1m1 0h1m1 0h2m1 0h3m2 0h1m1 0h5m1 0h2m2 0h3m1 0h2m4 0h1m2 0h1m1 0h1m1 0h1m2 0h2m2 0h1m3 0h1m2 0h3m7 0h2m4 0h2m1 0h1m6 0h1m1 0h1m3 0h1m3 0h1m3 0h1m2 0h1m5 0h1m18 0h1m3 0h2m1 0h1m3 0h2m5 0h1m8 0h1m1 0h1m7 0h1m1 0h1m1 0h1m1 0h1m4 0h1m-197 1h1m8 0h1m4 0h1m4 0h1m4 0h3m2 0h1m2 0h3m2 0h6m2 0h2m1 0h3m2 0h2m4 0h1m1 0h1m2 0h1m1 0h1m1 0h2m2 0h1m4 0h1m1 0h4m7 0h2m3 0h2m1 0h2m6 0h2m3 0h1m3 0h1m4 0h1m2 0h1m5 0h1m17 0h1m3 0h1m1 0h1m1 0h1m3 0h1m6 0h1m8 0h2m8 0h2m1 0h1m2 0h1m3 0h1m-196 1h1m8 0h1m4 0h1m4 0h1m4 0h1m1 0h1m2 0h1m1 0h3m2 0h1m1 0h4m2 0h2m2 0h3m1 0h2m4 0h1m2 0h1m1 0h1m1 0h1m1 0h1m1 0h1m2 0h1m3 0h1m1 0h4m7 0h2m4 0h1m2 0h2m5 0h1m1 0h1m3 0h1m3 0h1m3 0h1m2 0h1m5 0h1m18 0h1m3 0h2m1 0h1m3 0h1m6 0h1m8 0h1m1 0h1m7 0h1m1 0h1m1 0h1m1 0h1m4 0h1m-196 1h1m8 0h1m4 0h1m3 0h1m4 0h2m1 0h1m1 0h1m2 0h3m2 0h6m2 0h1m3 0h1m1 0h4m4 0h1m1 0h1m1 0h1m1 0h1m2 0h2m2 0h1m4 0h2m1 0h2m8 0h2m3 0h2m1 0h1m1 0h1m4 0h1m1 0h1m3 0h1m3 0h1m4 0h1m1 0h1m6 0h1m17 0h1m4 0h2m1 0h1m2 0h1m6 0h1m9 0h1m1 0h1m6 0h1m1 0h1m1 0h1m2 0h1m4 0h1m-196 1h1m8 0h1m4 0h1m3 0h1m4 0h2m1 0h3m2 0h3m2 0h1m1 0h3m2 0h2m2 0h2m1 0h1m1 0h2m3 0h1m1 0h1m2 0h2m2 0h1m1 0h1m1 0h1m4 0h2m1 0h3m7 0h3m2 0h1m1 0h2m2 0h1m4 0h2m3 0h1m3 0h1m4 0h1m2 0h1m5 0h1m17 0h1m4 0h2m1 0h1m2 0h1m6 0h1m9 0h1m1 0h1m7 0h2m1 0h1m2 0h1m4 0h1m-196 1h1m8 0h1m5 0h1m2 0h1m4 0h2m2 0h3m1 0h3m2 0h5m2 0h2m3 0h1m1 0h4m4 0h1m1 0h1m1 0h2m2 0h1m1 0h1m2 0h1m4 0h3m1 0h2m7 0h2m3 0h1m1 0h2m1 0h1m4 0h1m1 0h1m3 0h1m3 0h1m4 0h1m1 0h1m6 0h1m17 0h1m4 0h2m1 0h1m1 0h2m5 0h1m10 0h1m1 0h1m6 0h1m1 0h1m1 0h1m2 0h1m4 0h1m-196 1h1m8 0h1m4 0h1m3 0h1m4 0h2m1 0h2m1 0h1m1 0h3m2 0h1m1 0h2m3 0h2m2 0h5m1 0h1m3 0h1m1 0h1m1 0h2m2 0h1m2 0h1m1 0h1m4 0h3m1 0h1m1 0h1m6 0h1m1 0h1m2 0h1m1 0h2m2 0h1m3 0h1m1 0h1m3 0h1m3 0h1m4 0h1m1 0h1m6 0h1m17 0h1m5 0h1m1 0h1m1 0h2m6 0h1m9 0h1m2 0h1m5 0h1m1 0h1m1 0h1m2 0h1m5 0h1m-196 1h1m8 0h1m4 0h1m2 0h1m4 0h2m2 0h3m1 0h3m2 0h5m2 0h2m3 0h2m1 0h3m4 0h1m1 0h1m1 0h1m3 0h1m1 0h1m2 0h1m4 0h1m1 0h1m1 0h2m7 0h2m2 0h1m2 0h2m2 0h1m3 0h1m1 0h1m3 0h1m3 0h1m4 0h1m1 0h1m6 0h1m17 0h1m4 0h2m1 0h3m6 0h1m10 0h1m1 0h1m6 0h1m1 0h1m1 0h1m2 0h1m4 0h1m-195 1h1m8 0h1m4 0h1m2 0h1m4 0h2m2 0h1m1 0h1m1 0h1m1 0h1m2 0h1m1 0h2m2 0h1m1 0h1m2 0h2m2 0h1m1 0h1m3 0h1m1 0h1m1 0h1m3 0h1m2 0h1m1 0h1m4 0h1m1 0h1m1 0h1m1 0h1m6 0h1m1 0h1m1 0h1m3 0h1m3 0h1m2 0h1m1 0h1m3 0h1m3 0h1m4 0h1m1 0h1m6 0h1m17 0h1m5 0h1m1 0h3m6 0h1m10 0h1m2 0h1m5 0h1m1 0h1m1 0h1m2 0h1m5 0h1m-195 1h1m8 0h1m4 0h1m2 0h1m3 0h2m2 0h1m1 0h3m1 0h2m1 0h1m2 0h2m1 0h1m2 0h1m1 0h3m1 0h4m2 0h1m1 0h1m1 0h2m2 0h1m2 0h1m1 0h1m4 0h1m1 0h1m1 0h1m1 0h1m6 0h1m1 0h1m1 0h1m3 0h1m3 0h1m2 0h1m1 0h2m2 0h1m3 0h1m4 0h1m1 0h1m6 0h1m18 0h1m3 0h6m6 0h2m9 0h1m2 0h1m5 0h1m1 0h1m1 0h1m2 0h1m5 0h1m-195 1h1m8 0h1m4 0h2m1 0h1m3 0h3m2 0h1m1 0h1m1 0h1m1 0h1m2 0h1m1 0h2m2 0h1m1 0h1m1 0h3m2 0h1m1 0h1m2 0h2m1 0h1m1 0h1m2 0h1m2 0h1m2 0h1m4 0h2m2 0h3m5 0h1m1 0h1m1 0h1m3 0h1m3 0h1m2 0h4m2 0h1m3 0h1m4 0h1m2 0h1m5 0h1m18 0h1m3 0h3m1 0h1m1 0h1m6 0h1m9 0h1m2 0h1m5 0h1m1 0h1m1 0h1m2 0h1m6 0h1m-195 1h1m8 0h1m4 0h2m1 0h1m3 0h2m2 0h1m1 0h3m1 0h2m1 0h1m2 0h2m1 0h1m2 0h1m1 0h3m1 0h4m2 0h1m1 0h1m1 0h2m2 0h1m1 0h1m2 0h1m4 0h2m2 0h1m1 0h1m5 0h1m1 0h1m1 0h1m3 0h1m3 0h1m2 0h3m1 0h1m2 0h1m2 0h1m4 0h1m2 0h1m6 0h1m18 0h1m2 0h2m1 0h4m6 0h2m7 0h2m3 0h1m4 0h1m1 0h1m1 0h1m3 0h1m5 0h1m-194 1h1m8 0h1m4 0h1m1 0h1m3 0h2m2 0h1m1 0h2m1 0h1m1 0h4m1 0h4m2 0h1m1 0h1m1 0h1m1 0h1m1 0h2m2 0h4m1 0h1m2 0h1m2 0h1m1 0h1m4 0h2m2 0h1m1 0h2m4 0h1m2 0h2m4 0h1m3 0h5m1 0h1m2 0h1m2 0h1m5 0h1m1 0h1m6 0h1m18 0h1m1 0h3m1 0h4m7 0h1m7 0h1m4 0h1m4 0h1m1 0h1m2 0h1m2 0h1m6 0h1m-195 1h1m8 0h1m5 0h1m1 0h1m2 0h3m1 0h1m2 0h3m1 0h4m2 0h3m3 0h2m1 0h3m1 0h3m1 0h4m1 0h2m1 0h1m2 0h1m2 0h1m3 0h2m3 0h3m4 0h1m2 0h2m4 0h1m3 0h2m1 0h2m2 0h1m1 0h1m2 0h1m5 0h1m1 0h1m6 0h1m19 0h2m1 0h1m2 0h2m1 0h1m6 0h2m6 0h1m4 0h1m4 0h1m1 0h1m2 0h1m2 0h1m6 0h1m-194 1h1m8 0h1m4 0h3m2 0h3m2 0h1m1 0h2m1 0h1m1 0h3m2 0h1m1 0h2m3 0h4m1 0h1m1 0h1m1 0h3m1 0h1m1 0h1m1 0h2m2 0h1m2 0h1m4 0h1m3 0h3m4 0h1m2 0h2m4 0h1m3 0h2m2 0h1m2 0h1m1 0h1m2 0h1m5 0h1m2 0h1m5 0h1m19 0h2m1 0h1m2 0h2m1 0h1m7 0h1m6 0h1m4 0h1m4 0h1m1 0h1m2 0h1m2 0h1m6 0h1m-193 1h1m8 0h1m4 0h3m1 0h1m1 0h1m2 0h1m1 0h4m1 0h1m1 0h2m2 0h3m3 0h2m1 0h3m2 0h3m1 0h3m1 0h3m2 0h1m2 0h1m4 0h1m3 0h2m1 0h1m3 0h1m2 0h2m4 0h1m3 0h2m2 0h1m3 0h2m2 0h1m5 0h1m2 0h1m5 0h1m19 0h2m1 0h1m3 0h1m1 0h1m7 0h2m5 0h1m4 0h1m4 0h1m1 0h1m2 0h1m2 0h1m7 0h1m-194 1h1m8 0h1m5 0h2m2 0h3m1 0h1m2 0h2m1 0h1m1 0h3m2 0h1m1 0h1m4 0h1m1 0h3m2 0h1m1 0h5m1 0h1m1 0h2m1 0h1m3 0h1m3 0h2m3 0h3m3 0h1m2 0h2m4 0h1m3 0h2m2 0h1m3 0h1m1 0h3m5 0h1m2 0h1m6 0h1m18 0h2m1 0h1m3 0h2m1 0h1m7 0h1m4 0h2m5 0h1m4 0h1m1 0h1m1 0h1m3 0h1m6 0h1m-193 1h1m8 0h1m5 0h2m1 0h1m1 0h1m1 0h1m2 0h4m1 0h4m2 0h3m3 0h1m2 0h2m3 0h3m1 0h1m1 0h1m1 0h3m1 0h1m3 0h1m3 0h2m3 0h2m1 0h1m2 0h1m2 0h2m4 0h1m3 0h2m2 0h1m4 0h3m6 0h1m2 0h1m6 0h1m17 0h2m1 0h2m3 0h2m1 0h1m7 0h2m3 0h1m6 0h1m4 0h1m1 0h1m1 0h1m3 0h1m7 0h1m-193 1h1m8 0h1m4 0h4m1 0h1m2 0h1m1 0h3m1 0h1m1 0h3m2 0h1m1 0h2m2 0h2m1 0h3m2 0h3m1 0h3m1 0h1m1 0h1m1 0h1m3 0h1m3 0h2m3 0h2m1 0h1m2 0h1m2 0h2m4 0h1m3 0h2m2 0h2m3 0h3m6 0h1m3 0h1m5 0h1m17 0h1m2 0h2m4 0h1m1 0h1m8 0h1m3 0h1m6 0h1m4 0h1m1 0h1m1 0h1m3 0h1m7 0h1m-193 1h1m8 0h1m5 0h3m1 0h2m1 0h1m2 0h1m1 0h2m1 0h3m3 0h3m2 0h4m1 0h1m2 0h7m1 0h1m1 0h3m4 0h1m2 0h3m3 0h1m1 0h1m2 0h1m2 0h2m4 0h1m3 0h2m2 0h2m4 0h2m6 0h1m3 0h1m5 0h1m16 0h2m3 0h1m4 0h2m1 0h1m7 0h2m2 0h1m6 0h1m4 0h1m1 0h1m1 0h1m3 0h1m7 0h1m-192 1h1m8 0h1m5 0h2m2 0h1m1 0h1m2 0h3m1 0h1m1 0h1m1 0h1m2 0h4m1 0h3m1 0h2m3 0h3m1 0h1m1 0h1m1 0h3m1 0h1m3 0h1m2 0h3m3 0h1m2 0h1m1 0h1m2 0h2m5 0h1m2 0h2m2 0h2m4 0h2m7 0h1m2 0h1m5 0h1m16 0h1m4 0h1m4 0h2m1 0h1m8 0h1m2 0h1m6 0h1m4 0h1m1 0h1m2 0h1m2 0h1m8 0h1m-192 1h1m8 0h1m5 0h2m1 0h1m1 0h1m2 0h2m1 0h2m1 0h1m1 0h2m2 0h1m1 0h2m1 0h1m1 0h4m2 0h1m1 0h3m1 0h1m1 0h1m1 0h3m3 0h1m2 0h3m3 0h2m1 0h1m1 0h1m2 0h2m5 0h1m2 0h2m2 0h2m5 0h1m7 0h1m2 0h1m6 0h1m15 0h1m4 0h2m3 0h4m8 0h4m7 0h1m3 0h1m1 0h1m2 0h1m3 0h1m7 0h1m-192 1h1m8 0h1m5 0h3m1 0h1m1 0h1m2 0h3m1 0h1m1 0h1m1 0h1m2 0h4m1 0h3m1 0h2m3 0h3m1 0h1m1 0h1m1 0h4m4 0h1m1 0h1m1 0h2m3 0h1m2 0h2m2 0h2m5 0h1m2 0h2m2 0h1m1 0h1m4 0h1m7 0h1m3 0h1m5 0h1m14 0h2m4 0h2m4 0h2m1 0h1m8 0h2m8 0h1m3 0h1m1 0h1m2 0h1m3 0h1m8 0h1m-192 1h1m8 0h1m5 0h1m1 0h2m1 0h1m2 0h2m1 0h2m1 0h1m1 0h2m2 0h1m1 0h4m1 0h4m2 0h5m1 0h1m1 0h2m1 0h1m4 0h1m1 0h1m1 0h2m3 0h1m2 0h2m2 0h2m5 0h1m2 0h2m2 0h1m1 0h1m4 0h2m6 0h1m3 0h1m5 0h1m14 0h1m5 0h1m1 0h1m3 0h1m1 0h2m8 0h2m8 0h1m3 0h1m1 0h1m2 0h1m3 0h1m8 0h1m-191 1h1m8 0h1m4 0h2m1 0h2m1 0h1m1 0h2m2 0h1m1 0h1m1 0h1m1 0h1m1 0h2m1 0h3m2 0h4m1 0h3m1 0h1m2 0h3m1 0h2m3 0h1m1 0h1m1 0h2m3 0h1m2 0h2m2 0h2m5 0h1m2 0h2m2 0h1m1 0h1m4 0h2m6 0h1m3 0h1m5 0h1m14 0h1m5 0h1m2 0h1m2 0h1m2 0h1m9 0h2m7 0h1m3 0h1m1 0h1m2 0h1m3 0h1m9 0h1m-192 1h1m8 0h1m5 0h1m1 0h2m1 0h1m1 0h1m1 0h1m1 0h4m1 0h2m1 0h2m1 0h3m2 0h2m1 0h1m2 0h1m1 0h3m1 0h1m1 0h2m1 0h1m4 0h2m1 0h1m1 0h1m2 0h2m2 0h1m2 0h2m5 0h1m2 0h2m2 0h1m1 0h1m4 0h1m1 0h1m5 0h1m3 0h1m5 0h1m13 0h2m5 0h1m2 0h1m3 0h1m1 0h2m8 0h2m7 0h1m3 0h1m1 0h1m2 0h1m3 0h1m9 0h1m-191 1h1m8 0h1m4 0h2m1 0h2m1 0h1m1 0h2m2 0h3m1 0h1m1 0h4m1 0h3m2 0h1m1 0h2m1 0h3m1 0h1m2 0h3m1 0h2m3 0h2m1 0h1m1 0h1m3 0h1m1 0h2m2 0h2m5 0h1m2 0h2m2 0h1m1 0h1m4 0h3m5 0h1m4 0h1m5 0h1m12 0h1m6 0h1m3 0h1m2 0h1m2 0h1m8 0h3m6 0h1m3 0h1m1 0h1m3 0h1m2 0h1m10 0h1m-192 1h1m8 0h1m5 0h4m1 0h1m1 0h1m1 0h1m1 0h3m2 0h2m1 0h2m2 0h2m2 0h4m2 0h1m1 0h3m1 0h1m1 0h1m1 0h2m4 0h1m2 0h1m1 0h1m2 0h1m1 0h2m1 0h3m6 0h1m1 0h2m1 0h2m1 0h1m4 0h3m6 0h1m3 0h1m5 0h1m12 0h1m7 0h1m2 0h1m3 0h1m1 0h2m6 0h3m1 0h1m6 0h1m2 0h1m1 0h1m3 0h1m3 0h1m9 0h1m-191 1h1m8 0h1m4 0h5m1 0h2m1 0h1m2 0h3m1 0h1m1 0h2m1 0h1m1 0h2m2 0h2m1 0h2m1 0h1m1 0h1m1 0h1m2 0h2m2 0h2m3 0h1m2 0h1m1 0h1m2 0h4m1 0h1m1 0h1m6 0h1m1 0h2m1 0h1m2 0h1m4 0h2m1 0h1m5 0h1m3 0h1m5 0h1m12 0h1m7 0h1m3 0h1m2 0h1m2 0h1m6 0h1m2 0h1m1 0h1m5 0h1m2 0h1m1 0h1m3 0h1m3 0h1m10 0h1m-191 1h1m7 0h1m4 0h3m1 0h1m1 0h2m2 0h1m1 0h3m1 0h1m2 0h1m1 0h1m1 0h3m1 0h4m1 0h2m2 0h3m2 0h2m1 0h2m3 0h2m1 0h1m2 0h1m1 0h3m1 0h2m1 0h1m6 0h1m1 0h2m1 0h1m2 0h1m4 0h2m1 0h1m5 0h1m3 0h1m5 0h1m11 0h2m7 0h1m3 0h1m2 0h2m1 0h2m5 0h1m2 0h1m1 0h1m5 0h1m2 0h1m1 0h1m3 0h1m3 0h1m11 0h1m-192 1h1m8 0h1m4 0h5m1 0h1m2 0h1m2 0h2m2 0h1m1 0h1m2 0h7m1 0h1m1 0h3m1 0h3m2 0h2m1 0h1m1 0h1m2 0h2m1 0h1m2 0h1m1 0h3m1 0h2m1 0h1m6 0h1m1 0h2m1 0h1m2 0h1m4 0h2m1 0h1m5 0h1m3 0h1m5 0h1m11 0h1m8 0h1m4 0h1m2 0h1m2 0h1m5 0h1m3 0h1m1 0h1m4 0h1m2 0h1m1 0h1m3 0h1m3 0h1m11 0h1m-191 1h1m7 0h1m4 0h5m1 0h2m2 0h1m1 0h1m1 0h1m1 0h1m1 0h2m1 0h2m1 0h2m1 0h1m1 0h2m1 0h2m2 0h3m2 0h2m1 0h2m3 0h3m3 0h1m1 0h2m1 0h5m5 0h3m1 0h2m3 0h1m2 0h2m1 0h1m1 0h1m4 0h1m4 0h1m5 0h1m10 0h1m8 0h1m4 0h1m2 0h2m1 0h2m4 0h1m3 0h1m2 0h1m3 0h1m1 0h2m1 0h1m4 0h1m2 0h1m12 0h1m-192 1h1m8 0h1m4 0h2m1 0h2m1 0h1m2 0h1m1 0h3m2 0h3m2 0h1m1 0h1m1 0h2m2 0h1m1 0h3m1 0h3m2 0h2m1 0h1m1 0h1m2 0h3m3 0h1m1 0h2m1 0h3m1 0h1m5 0h2m2 0h2m3 0h1m2 0h1m2 0h1m1 0h1m4 0h1m4 0h1m5 0h1m9 0h2m8 0h1m5 0h1m2 0h1m2 0h1m4 0h1m4 0h1m2 0h1m2 0h1m1 0h1m2 0h1m4 0h1m2 0h1m12 0h1m-191 1h1m7 0h1m4 0h2m1 0h2m1 0h1m3 0h4m2 0h4m1 0h1m1 0h1m1 0h2m2 0h2m1 0h2m2 0h3m2 0h3m1 0h1m2 0h1m1 0h1m4 0h3m2 0h2m1 0h1m5 0h2m2 0h2m3 0h1m2 0h1m2 0h1m1 0h1m4 0h1m4 0h1m5 0h1m9 0h1m9 0h1m5 0h1m2 0h2m1 0h2m3 0h1m4 0h1m2 0h1m2 0h1m1 0h1m2 0h1m4 0h1m2 0h1m13 0h1m-191 1h1m7 0h1m3 0h3m1 0h4m2 0h5m1 0h3m1 0h4m2 0h1m3 0h1m1 0h2m2 0h3m2 0h2m1 0h1m1 0h1m1 0h1m1 0h1m4 0h2m1 0h4m1 0h1m5 0h2m2 0h2m3 0h1m2 0h1m2 0h1m2 0h1m3 0h1m4 0h1m5 0h1m9 0h1m9 0h1m6 0h1m1 0h2m2 0h1m2 0h2m5 0h1m2 0h1m1 0h1m1 0h1m2 0h1m4 0h1m2 0h1m14 0h1m-192 1h1m7 0h1m4 0h2m2 0h3m3 0h4m2 0h2m1 0h1m1 0h2m2 0h2m2 0h5m2 0h3m1 0h4m1 0h1m1 0h1m2 0h1m4 0h1m1 0h4m1 0h1m6 0h1m2 0h1m4 0h1m2 0h1m2 0h1m2 0h1m4 0h1m3 0h1m5 0h1m9 0h1m10 0h1m5 0h1m2 0h2m1 0h2m1 0h1m6 0h1m3 0h1m1 0h2m2 0h1m4 0h1m3 0h1m13 0h1m-191 1h1m7 0h1m3 0h3m2 0h3m2 0h4m2 0h3m1 0h4m2 0h2m1 0h1m1 0h3m2 0h1m1 0h1m1 0h1m1 0h2m2 0h2m2 0h1m3 0h7m1 0h1m6 0h1m2 0h1m4 0h1m2 0h1m3 0h1m1 0h1m4 0h1m4 0h1m5 0h1m7 0h2m10 0h1m6 0h1m1 0h2m2 0h1m1 0h1m7 0h1m3 0h3m2 0h1m5 0h1m2 0h1m14 0h1m-192 1h1m7 0h1m4 0h2m2 0h3m3 0h1m1 0h2m2 0h2m1 0h4m2 0h2m2 0h5m2 0h3m1 0h4m1 0h2m2 0h2m2 0h1m1 0h1m1 0h1m1 0h1m1 0h1m6 0h1m2 0h1m4 0h1m2 0h1m3 0h1m2 0h1m3 0h1m4 0h1m5 0h1m7 0h1m11 0h1m6 0h1m2 0h2m1 0h3m7 0h1m3 0h3m2 0h1m5 0h1m2 0h1m14 0h1m-191 1h1m7 0h1m3 0h1m1 0h1m2 0h1m1 0h1m2 0h1m1 0h2m2 0h2m2 0h1m1 0h1m2 0h1m1 0h1m1 0h1m1 0h1m1 0h1m2 0h1m1 0h1m1 0h1m1 0h2m2 0h1m2 0h2m2 0h1m1 0h1m1 0h1m1 0h1m1 0h1m6 0h1m2 0h1m4 0h1m2 0h1m3 0h1m2 0h1m3 0h1m4 0h1m5 0h1m7 0h1m11 0h1m7 0h1m1 0h2m2 0h2m8 0h1m3 0h2m2 0h1m5 0h1m2 0h1m15 0h1m-191 1h1m7 0h1m3 0h1m1 0h1m2 0h1m1 0h1m1 0h1m1 0h1m1 0h1m1 0h3m1 0h1m2 0h1m1 0h1m1 0h1m1 0h1m1 0h3m2 0h1m1 0h3m1 0h3m1 0h1m2 0h1m1 0h1m1 0h1m1 0h3m2 0h2m6 0h1m2 0h1m4 0h1m2 0h1m4 0h1m1 0h1m4 0h1m4 0h1m5 0h1m7 0h1m10 0h1m7 0h1m1 0h1m1 0h1m2 0h2m7 0h1m3 0h2m2 0h1m5 0h1m2 0h1m15 0h1m-190 1h1m6 0h1m3 0h1m1 0h2m1 0h3m2 0h1m1 0h2m2 0h2m2 0h1m1 0h1m1 0h2m1 0h1m1 0h1m1 0h1m1 0h1m2 0h1m1 0h2m1 0h3m2 0h1m2 0h2m2 0h1m1 0h1m1 0h1m1 0h1m1 0h1m6 0h1m2 0h1m4 0h1m2 0h1m3 0h1m2 0h1m3 0h1m4 0h1m6 0h1m6 0h1m11 0h1m7 0h2m1 0h1m3 0h1m7 0h1m4 0h2m2 0h1m4 0h1m3 0h1m14 0h1m-190 1h1m7 0h1m3 0h1m1 0h1m2 0h1m1 0h1m1 0h1m1 0h1m1 0h1m1 0h3m1 0h1m2 0h1m1 0h1m1 0h1m1 0h1m1 0h3m2 0h1m1 0h7m1 0h1m2 0h1m1 0h1m1 0h1m1 0h3m2 0h2m6 0h1m2 0h1m4 0h1m2 0h1m4 0h1m1 0h1m4 0h1m4 0h1m5 0h1m7 0h1m10 0h1m7 0h2m2 0h1m2 0h2m6 0h1m4 0h2m2 0h1m5 0h1m2 0h1m14 0h1m-189 1h1m7 0h1m3 0h3m2 0h1m1 0h1m1 0h1m1 0h1m1 0h1m1 0h2m2 0h1m1 0h1m1 0h2m1 0h1m1 0h3m1 0h1m2 0h5m1 0h2m1 0h1m3 0h2m2 0h1m1 0h3m1 0h1m1 0h1m5 0h1m3 0h1m4 0h1m1 0h1m4 0h1m1 0h1m5 0h1m4 0h1m5 0h1m6 0h1m10 0h1m7 0h2m2 0h1m3 0h2m6 0h1m3 0h1m1 0h1m2 0h1m4 0h1m2 0h1m14 0h1m-188 1h1m6 0h1m4 0h3m1 0h3m1 0h1m1 0h1m1 0h1m1 0h3m1 0h1m2 0h3m1 0h1m1 0h2m1 0h2m2 0h2m1 0h2m1 0h1m1 0h1m1 0h1m2 0h1m1 0h1m1 0h1m1 0h3m2 0h2m6 0h1m2 0h1m4 0h1m2 0h1m4 0h1m1 0h1m4 0h1m4 0h1m6 0h1m6 0h1m10 0h1m7 0h1m3 0h1m3 0h1m6 0h1m3 0h1m1 0h1m2 0h1m4 0h1m3 0h1m13 0h1m-187 1h1m6 0h1m3 0h2m1 0h1m1 0h3m1 0h1m1 0h1m1 0h2m1 0h3m2 0h3m2 0h2m1 0h1m1 0h2m1 0h1m1 0h3m1 0h1m2 0h2m2 0h1m1 0h1m1 0h1m2 0h3m1 0h2m6 0h1m3 0h1m3 0h1m2 0h1m5 0h2m5 0h1m4 0h1m6 0h1m6 0h1m9 0h1m7 0h1m4 0h1m3 0h1m5 0h1m4 0h1m1 0h1m1 0h1m4 0h1m3 0h1m13 0h1m-186 1h1m6 0h1m3 0h2m1 0h1m1 0h4m1 0h1m2 0h4m1 0h1m2 0h1m1 0h1m1 0h1m1 0h2m1 0h2m2 0h4m1 0h2m1 0h2m3 0h1m1 0h1m1 0h1m1 0h1m1 0h1m2 0h2m5 0h1m3 0h1m4 0h1m1 0h1m5 0h2m6 0h1m4 0h1m6 0h1m5 0h1m9 0h1m7 0h1m4 0h1m4 0h1m4 0h1m4 0h1m1 0h1m2 0h1m3 0h1m3 0h1m13 0h1m-186 1h1m6 0h1m4 0h1m1 0h1m1 0h3m1 0h1m1 0h1m1 0h2m1 0h3m2 0h3m2 0h3m2 0h2m1 0h2m1 0h2m1 0h1m2 0h2m2 0h1m1 0h1m1 0h1m2 0h3m1 0h2m6 0h1m3 0h1m3 0h1m2 0h1m5 0h2m5 0h1m4 0h1m6 0h1m6 0h1m9 0h1m5 0h3m4 0h1m3 0h1m4 0h1m4 0h1m2 0h1m1 0h1m4 0h1m3 0h1m13 0h1m-186 1h1m6 0h1m4 0h1m1 0h1m1 0h4m1 0h1m2 0h6m2 0h1m1 0h1m1 0h1m1 0h1m2 0h2m2 0h1m1 0h2m1 0h2m1 0h2m3 0h1m1 0h1m1 0h1m1 0h1m1 0h1m2 0h2m5 0h1m3 0h1m4 0h1m1 0h1m5 0h2m6 0h1m4 0h1m6 0h1m5 0h1m9 0h1m5 0h1m1 0h1m4 0h1m4 0h1m3 0h1m4 0h1m2 0h1m2 0h1m3 0h1m3 0h1m13 0h1m-185 1h1m6 0h1m3 0h1m2 0h1m1 0h4m1 0h1m2 0h1m1 0h3m2 0h1m1 0h1m2 0h3m2 0h2m1 0h3m1 0h3m2 0h1m3 0h1m1 0h1m1 0h1m2 0h1m1 0h1m1 0h2m5 0h1m4 0h1m3 0h1m1 0h1m6 0h1m7 0h1m4 0h1m6 0h1m5 0h1m8 0h1m5 0h1m1 0h1m5 0h1m4 0h1m2 0h1m5 0h1m2 0h1m1 0h1m3 0h1m3 0h1m13 0h1m-184 1h1m5 0h1m4 0h1m2 0h5m1 0h1m2 0h1m1 0h1m1 0h1m2 0h3m2 0h3m3 0h1m1 0h3m2 0h2m3 0h1m2 0h1m2 0h2m2 0h1m1 0h1m2 0h1m6 0h1m3 0h1m3 0h1m2 0h1m6 0h1m6 0h1m4 0h1m7 0h1m5 0h1m8 0h1m4 0h1m2 0h1m5 0h1m3 0h2m1 0h1m5 0h1m2 0h1m1 0h1m3 0h1m4 0h1m12 0h1m-183 1h1m5 0h1m3 0h2m2 0h5m1 0h1m2 0h1m1 0h3m1 0h2m1 0h1m2 0h2m3 0h2m1 0h2m2 0h1m1 0h1m2 0h1m3 0h1m1 0h1m1 0h1m2 0h1m1 0h1m1 0h2m5 0h1m4 0h1m3 0h1m1 0h1m6 0h1m7 0h1m4 0h1m7 0h1m4 0h1m8 0h1m4 0h1m2 0h1m5 0h1m4 0h2m1 0h1m4 0h1m3 0h1m1 0h1m2 0h1m4 0h1m12 0h1m-183 1h1m6 0h1m3 0h2m1 0h1m1 0h3m1 0h1m2 0h3m1 0h2m1 0h3m2 0h2m4 0h1m1 0h3m2 0h2m2 0h2m2 0h1m2 0h2m2 0h1m1 0h2m1 0h1m5 0h1m4 0h1m3 0h1m1 0h1m6 0h2m7 0h1m4 0h1m6 0h1m5 0h1m7 0h1m4 0h1m2 0h1m6 0h1m4 0h1m1 0h1m4 0h1m3 0h1m1 0h1m3 0h1m3 0h1m12 0h1m-182 1h1m5 0h1m3 0h2m2 0h5m1 0h1m2 0h1m1 0h3m1 0h2m1 0h1m2 0h2m3 0h2m1 0h2m2 0h1m1 0h1m2 0h1m3 0h1m1 0h1m1 0h1m2 0h1m1 0h1m1 0h2m5 0h1m4 0h1m3 0h1m1 0h1m6 0h1m7 0h1m4 0h1m7 0h1m4 0h1m8 0h1m3 0h1m3 0h1m5 0h1m4 0h3m5 0h1m3 0h1m1 0h1m2 0h1m4 0h1m11 0h1m-181 1h1m5 0h1m3 0h2m2 0h4m1 0h1m2 0h3m1 0h3m1 0h2m2 0h2m4 0h1m1 0h2m2 0h3m2 0h2m2 0h1m2 0h2m2 0h1m1 0h2m1 0h1m5 0h1m4 0h1m3 0h1m1 0h1m6 0h2m7 0h1m4 0h1m7 0h1m4 0h1m7 0h1m3 0h1m3 0h1m6 0h1m4 0h2m5 0h1m3 0h1m1 0h1m2 0h1m4 0h1m11 0h1m-180 1h1m5 0h1m3 0h2m2 0h5m3 0h2m1 0h3m1 0h1m1 0h1m1 0h3m3 0h4m2 0h1m1 0h1m2 0h1m1 0h1m1 0h1m2 0h2m2 0h1m1 0h1m1 0h1m1 0h1m4 0h1m4 0h1m3 0h1m1 0h1m6 0h1m1 0h1m7 0h1m4 0h1m7 0h1m4 0h1m6 0h1m3 0h1m3 0h1m6 0h1m5 0h2m4 0h1m3 0h1m1 0h1m2 0h1m4 0h1m11 0h1m-179 1h1m5 0h1m2 0h2m2 0h6m2 0h3m1 0h3m1 0h2m2 0h2m4 0h3m2 0h1m1 0h2m2 0h2m2 0h1m2 0h1m3 0h1m1 0h2m1 0h1m5 0h1m4 0h1m3 0h1m1 0h1m6 0h2m7 0h1m4 0h1m7 0h1m4 0h1m6 0h1m3 0h1m4 0h1m6 0h1m4 0h1m1 0h1m4 0h1m3 0h1m1 0h1m2 0h1m4 0h1m11 0h1m-180 1h1m5 0h1m3 0h2m2 0h5m3 0h2m1 0h3m1 0h1m1 0h1m1 0h3m3 0h4m2 0h1m1 0h1m2 0h1m1 0h1m1 0h1m2 0h2m2 0h1m1 0h1m1 0h1m1 0h1m4 0h1m4 0h1m3 0h1m1 0h1m6 0h1m1 0h1m7 0h1m4 0h1m7 0h1m4 0h1m6 0h1m2 0h1m4 0h1m6 0h1m4 0h3m4 0h1m3 0h1m1 0h1m2 0h1m4 0h1m11 0h1m-179 1h1m5 0h1m2 0h1m1 0h1m1 0h1m1 0h4m2 0h3m1 0h2m2 0h2m2 0h2m3 0h4m2 0h1m1 0h1m3 0h2m2 0h1m2 0h1m3 0h1m1 0h1m1 0h3m4 0h1m3 0h1m4 0h1m1 0h1m5 0h1m2 0h1m6 0h1m4 0h1m8 0h1m4 0h1m5 0h1m2 0h1m4 0h1m6 0h1m5 0h1m1 0h1m4 0h1m3 0h1m1 0h1m2 0h1m4 0h1m10 0h1m-178 1h1m5 0h1m2 0h2m2 0h5m3 0h2m1 0h3m1 0h1m1 0h1m1 0h3m3 0h4m1 0h1m2 0h1m2 0h1m1 0h1m1 0h1m2 0h1m3 0h1m1 0h1m1 0h1m1 0h1m4 0h1m4 0h1m3 0h1m1 0h1m6 0h1m2 0h1m6 0h1m4 0h1m8 0h1m3 0h1m5 0h1m2 0h1m4 0h1m7 0h1m4 0h2m1 0h1m3 0h1m3 0h1m1 0h1m2 0h1m4 0h1m10 0h1m-177 1h1m5 0h1m1 0h1m1 0h1m2 0h5m3 0h1m2 0h2m2 0h2m1 0h3m3 0h4m1 0h1m2 0h1m3 0h1m1 0h2m2 0h1m3 0h1m2 0h1m1 0h3m4 0h1m3 0h1m3 0h1m2 0h1m5 0h1m2 0h1m7 0h1m4 0h1m7 0h1m4 0h1m4 0h1m2 0h1m5 0h1m6 0h1m4 0h1m1 0h1m1 0h1m3 0h1m2 0h1m2 0h1m1 0h1m4 0h1m11 0h1m-177 1h1m5 0h1m1 0h1m1 0h1m1 0h1m1 0h4m2 0h2m1 0h3m1 0h1m1 0h1m1 0h3m2 0h3m1 0h2m2 0h2m2 0h1m1 0h1m1 0h1m1 0h2m3 0h1m1 0h1m2 0h3m3 0h1m3 0h1m4 0h1m1 0h1m5 0h1m3 0h1m6 0h1m4 0h1m8 0h1m4 0h1m3 0h1m2 0h1m5 0h1m6 0h1m4 0h1m1 0h1m2 0h1m2 0h1m3 0h1m1 0h1m2 0h1m4 0h1m10 0h1m-177 1h1m5 0h1m1 0h1m1 0h1m2 0h5m3 0h1m2 0h2m2 0h2m1 0h3m3 0h4m1 0h1m2 0h1m3 0h1m1 0h2m2 0h1m3 0h1m2 0h1m1 0h3m4 0h1m3 0h1m3 0h1m2 0h1m5 0h1m3 0h1m6 0h1m4 0h1m8 0h1m3 0h1m4 0h1m2 0h1m4 0h1m7 0h1m3 0h1m2 0h1m1 0h1m3 0h1m2 0h1m2 0h1m1 0h1m4 0h1m10 0h1m-176 1h1m5 0h1m1 0h1m1 0h1m1 0h1m1 0h4m2 0h2m1 0h3m1 0h1m1 0h5m2 0h3m1 0h2m2 0h2m2 0h1m1 0h1m1 0h1m1 0h2m3 0h1m1 0h1m2 0h3m3 0h1m3 0h1m4 0h1m1 0h1m5 0h1m4 0h1m5 0h1m4 0h1m9 0h1m3 0h1m3 0h1m2 0h1m4 0h1m7 0h1m3 0h1m2 0h1m2 0h1m2 0h1m3 0h1m1 0h1m2 0h1m4 0h1m9 0h1m-175 1h1m5 0h2m2 0h1m1 0h1m1 0h2m1 0h1m2 0h1m2 0h2m2 0h2m1 0h3m2 0h6m2 0h2m3 0h1m1 0h2m1 0h2m3 0h1m2 0h1m2 0h1m1 0h1m3 0h1m2 0h1m4 0h1m2 0h1m4 0h1m4 0h1m6 0h1m4 0h1m8 0h1m4 0h1m2 0h1m2 0h1m5 0h1m6 0h1m3 0h1m3 0h1m2 0h1m2 0h1m2 0h1m2 0h1m1 0h1m4 0h1m10 0h1m-175 1h1m5 0h2m1 0h1m2 0h4m1 0h1m1 0h2m1 0h3m1 0h1m1 0h3m1 0h1m2 0h2m1 0h2m3 0h2m2 0h1m2 0h1m1 0h2m3 0h1m2 0h1m2 0h3m3 0h1m3 0h1m3 0h1m2 0h1m5 0h1m4 0h1m6 0h1m4 0h1m8 0h1m3 0h1m2 0h1m2 0h1m5 0h1m7 0h1m2 0h1m4 0h1m2 0h1m1 0h1m2 0h1m2 0h1m1 0h1m4 0h1m10 0h1m-174 1h1m5 0h1m2 0h1m1 0h1m1 0h2m2 0h1m1 0h1m2 0h2m2 0h6m2 0h2m1 0h2m3 0h2m3 0h1m1 0h3m1 0h1m3 0h1m2 0h1m2 0h1m1 0h1m3 0h1m2 0h1m4 0h1m2 0h1m4 0h1m5 0h1m5 0h1m4 0h1m9 0h1m3 0h1m1 0h1m2 0h1m5 0h1m7 0h1m3 0h1m3 0h1m3 0h1m1 0h1m2 0h1m2 0h1m1 0h1m4 0h1m9 0h1m-174 1h1m5 0h2m2 0h1m1 0h1m1 0h2m1 0h1m1 0h2m1 0h1m1 0h1m1 0h1m1 0h3m1 0h1m1 0h3m1 0h2m2 0h1m1 0h1m2 0h1m2 0h1m1 0h2m3 0h1m2 0h1m3 0h1m1 0h1m2 0h1m2 0h1m4 0h1m2 0h1m4 0h1m6 0h1m5 0h1m4 0h1m9 0h1m3 0h1m1 0h1m1 0h1m5 0h1m7 0h1m3 0h1m4 0h1m2 0h1m1 0h1m2 0h1m2 0h1m1 0h1m4 0h1m9 0h1m-173 1h1m5 0h1m2 0h1m1 0h1m1 0h2m2 0h1m1 0h1m2 0h2m2 0h6m2 0h2m1 0h2m3 0h2m3 0h1m1 0h3m1 0h1m3 0h1m2 0h1m2 0h1m1 0h1m3 0h1m2 0h1m4 0h1m2 0h1m4 0h1m5 0h1m5 0h1m4 0h1m9 0h1m3 0h1m1 0h1m1 0h1m6 0h1m7 0h1m2 0h1m4 0h1m3 0h1m1 0h1m2 0h1m2 0h1m1 0h1m4 0h1m9 0h1m-173 1h1m5 0h1m2 0h1m1 0h1m1 0h2m2 0h3m1 0h1m1 0h1m1 0h1m1 0h3m1 0h1m1 0h2m2 0h2m2 0h1m1 0h1m2 0h1m2 0h2m1 0h1m3 0h1m2 0h1m3 0h1m1 0h1m2 0h1m2 0h1m4 0h1m2 0h1m4 0h1m6 0h1m5 0h1m4 0h1m9 0h1m3 0h2m1 0h1m6 0h1m7 0h1m2 0h1m5 0h1m3 0h2m2 0h1m2 0h1m1 0h1m4 0h1m9 0h1m-172 1h1m5 0h1m2 0h1m1 0h2m1 0h1m2 0h5m1 0h2m1 0h1m1 0h4m1 0h1m3 0h2m1 0h1m2 0h1m1 0h1m2 0h1m1 0h2m3 0h2m1 0h1m3 0h3m3 0h1m1 0h1m4 0h1m2 0h1m4 0h1m6 0h1m6 0h1m3 0h1m9 0h1m3 0h2m2 0h1m5 0h1m8 0h1m2 0h1m5 0h1m2 0h3m1 0h1m2 0h1m1 0h1m4 0h1m9 0h1m-171 1h1m4 0h1m2 0h1m1 0h1m1 0h2m2 0h3m1 0h3m1 0h1m1 0h3m1 0h1m1 0h2m2 0h2m2 0h1m1 0h1m2 0h1m2 0h2m1 0h1m2 0h2m1 0h1m4 0h1m1 0h1m3 0h2m5 0h1m1 0h1m5 0h1m6 0h1m5 0h1m4 0h1m7 0h2m3 0h1m1 0h1m1 0h1m6 0h1m7 0h1m2 0h1m5 0h1m3 0h2m2 0h1m1 0h4m4 0h1m9 0h1m-171 1h1m4 0h1m2 0h1m1 0h2m1 0h1m2 0h5m1 0h2m1 0h1m1 0h4m1 0h1m3 0h2m1 0h1m2 0h1m1 0h1m2 0h1m1 0h2m2 0h3m1 0h1m3 0h3m3 0h2m5 0h1m1 0h1m5 0h1m6 0h1m6 0h1m3 0h1m7 0h1m4 0h1m1 0h1m2 0h1m5 0h1m8 0h1m2 0h1m5 0h1m2 0h3m1 0h1m2 0h1m1 0h1m4 0h1m9 0h1m-170 1h1m3 0h1m3 0h1m1 0h2m1 0h1m1 0h3m1 0h3m1 0h1m1 0h5m1 0h2m2 0h2m1 0h1m2 0h1m1 0h2m1 0h1m1 0h2m2 0h1m1 0h1m1 0h1m4 0h2m4 0h1m5 0h1m1 0h1m6 0h1m5 0h1m7 0h1m2 0h1m7 0h1m4 0h1m2 0h1m1 0h1m6 0h1m7 0h1m2 0h1m5 0h1m2 0h1m1 0h2m1 0h1m1 0h4m3 0h1m9 0h1m-169 1h1m3 0h1m3 0h1m1 0h1m2 0h1m1 0h8m1 0h1m1 0h4m1 0h1m3 0h3m3 0h1m1 0h1m1 0h1m2 0h1m2 0h1m1 0h3m4 0h3m3 0h2m4 0h1m1 0h1m6 0h1m6 0h1m6 0h1m3 0h1m6 0h1m4 0h1m2 0h1m2 0h1m5 0h1m8 0h1m2 0h1m5 0h1m2 0h2m1 0h2m1 0h4m4 0h1m8 0h1m-168 1h1m3 0h1m2 0h1m1 0h2m1 0h1m1 0h4m1 0h6m1 0h2m1 0h1m1 0h1m3 0h3m2 0h1m1 0h1m2 0h1m1 0h2m1 0h1m2 0h2m4 0h1m1 0h1m3 0h1m1 0h1m4 0h2m6 0h1m6 0h1m7 0h1m2 0h1m5 0h2m4 0h1m3 0h1m2 0h1m5 0h1m7 0h1m3 0h1m5 0h1m1 0h2m1 0h2m1 0h1m1 0h1m1 0h1m3 0h1m9 0h1m-168 1h1m2 0h1m3 0h1m1 0h1m2 0h1m1 0h4m1 0h3m1 0h1m1 0h2m1 0h1m1 0h1m3 0h3m3 0h3m1 0h1m2 0h1m1 0h1m2 0h2m5 0h2m3 0h1m2 0h1m3 0h2m7 0h1m5 0h1m8 0h1m1 0h1m5 0h1m5 0h1m3 0h1m2 0h1m5 0h1m8 0h1m2 0h1m5 0h1m1 0h1m1 0h1m1 0h3m1 0h1m1 0h1m3 0h1m9 0h1m-168 1h1m3 0h1m3 0h1m1 0h1m2 0h5m1 0h6m1 0h2m1 0h1m1 0h1m3 0h2m3 0h1m1 0h1m1 0h1m2 0h2m1 0h1m2 0h2m4 0h1m1 0h1m3 0h1m1 0h1m3 0h2m7 0h1m6 0h1m7 0h1m2 0h1m4 0h1m6 0h1m3 0h1m2 0h1m5 0h1m7 0h1m3 0h1m5 0h1m1 0h2m2 0h1m1 0h1m1 0h1m1 0h1m3 0h1m8 0h1m-167 1h1m2 0h1m4 0h3m2 0h5m1 0h3m1 0h1m1 0h2m1 0h1m1 0h1m3 0h2m4 0h4m2 0h2m1 0h1m2 0h2m5 0h2m3 0h1m2 0h1m2 0h2m8 0h1m5 0h1m8 0h1m1 0h1m3 0h2m6 0h1m3 0h1m2 0h1m5 0h1m8 0h1m2 0h1m5 0h1m1 0h1m1 0h1m2 0h2m1 0h1m1 0h1m3 0h1m8 0h1m-166 1h1m2 0h1m3 0h1m1 0h1m2 0h5m2 0h5m1 0h1m2 0h1m1 0h1m3 0h2m3 0h3m1 0h1m2 0h3m3 0h2m4 0h3m2 0h1m3 0h1m2 0h1m8 0h1m5 0h1m9 0h2m3 0h1m7 0h1m4 0h1m2 0h1m5 0h1m7 0h1m3 0h1m5 0h2m1 0h1m2 0h2m1 0h2m1 0h1m2 0h1m9 0h1m-166 1h1m2 0h1m3 0h3m2 0h5m1 0h1m1 0h3m2 0h1m2 0h3m3 0h2m3 0h2m1 0h1m2 0h3m3 0h1m1 0h1m3 0h1m1 0h2m1 0h1m4 0h1m1 0h1m8 0h1m6 0h1m8 0h1m1 0h1m2 0h1m7 0h1m4 0h1m3 0h1m4 0h1m8 0h1m3 0h1m5 0h3m2 0h2m1 0h2m1 0h1m3 0h1m8 0h1m-165 1h1m1 0h1m4 0h3m2 0h4m2 0h5m1 0h1m2 0h1m1 0h1m3 0h2m3 0h4m2 0h3m3 0h3m4 0h3m1 0h1m5 0h2m9 0h1m5 0h1m9 0h2m2 0h1m7 0h1m5 0h1m2 0h1m5 0h1m7 0h1m3 0h1m5 0h2m1 0h1m2 0h3m1 0h1m1 0h1m2 0h1m8 0h1m-164 1h1m1 0h1m4 0h1m1 0h1m1 0h5m2 0h4m1 0h2m2 0h3m2 0h3m3 0h3m2 0h1m1 0h2m3 0h1m1 0h1m3 0h2m1 0h2m5 0h2m9 0h1m5 0h1m10 0h1m1 0h2m7 0h1m5 0h1m3 0h1m4 0h1m8 0h1m3 0h1m5 0h1m1 0h1m2 0h5m1 0h1m2 0h1m8 0h1m-163 1h2m4 0h3m2 0h4m2 0h5m1 0h1m2 0h1m1 0h1m3 0h2m3 0h4m2 0h3m3 0h3m4 0h4m6 0h2m9 0h1m5 0h1m9 0h3m8 0h1m6 0h1m2 0h1m5 0h1m7 0h1m3 0h1m5 0h2m1 0h1m2 0h3m1 0h1m1 0h1m2 0h1m8 0h1m-163 1h2m4 0h1m1 0h1m1 0h5m2 0h4m1 0h2m2 0h3m2 0h3m3 0h3m2 0h4m2 0h2m1 0h1m3 0h2m1 0h1m6 0h2m9 0h1m5 0h1m10 0h2m8 0h1m6 0h1m3 0h1m4 0h1m8 0h1m3 0h1m5 0h1m1 0h1m2 0h1m1 0h1m1 0h1m1 0h1m2 0h1m8 0h1m-162 1h2m4 0h1m1 0h1m1 0h2m1 0h2m2 0h3m2 0h2m2 0h2m2 0h1m1 0h1m3 0h3m2 0h4m2 0h2m2 0h1m3 0h1m1 0h1m6 0h3m8 0h1m5 0h1m10 0h2m8 0h1m6 0h1m4 0h1m4 0h1m7 0h1m4 0h1m4 0h1m1 0h1m2 0h1m1 0h2m1 0h1m1 0h1m1 0h1m8 0h1m-161 1h1m4 0h1m1 0h1m1 0h5m2 0h4m1 0h2m2 0h3m2 0h3m2 0h3m3 0h4m2 0h2m1 0h1m3 0h1m1 0h2m5 0h1m1 0h1m9 0h1m5 0h1m10 0h1m9 0h1m6 0h1m3 0h1m4 0h1m8 0h1m3 0h1m5 0h1m1 0h1m1 0h2m1 0h1m1 0h1m1 0h1m2 0h1m8 0h1m-162 1h2m4 0h1m1 0h1m1 0h2m1 0h2m2 0h3m2 0h2m2 0h2m2 0h1m1 0h1m2 0h1m1 0h1m3 0h4m2 0h2m2 0h1m3 0h3m5 0h1m1 0h2m8 0h1m5 0h1m10 0h2m8 0h1m6 0h1m4 0h1m4 0h1m7 0h1m4 0h1m4 0h1m1 0h1m1 0h2m1 0h2m1 0h1m1 0h1m1 0h1m8 0h1m-161 1h2m3 0h3m1 0h1m1 0h4m2 0h3m1 0h2m2 0h3m2 0h3m2 0h3m2 0h3m1 0h1m1 0h2m2 0h1m3 0h2m1 0h1m3 0h2m1 0h1m1 0h1m8 0h1m5 0h1m9 0h3m7 0h1m6 0h1m5 0h1m4 0h1m7 0h1m3 0h1m4 0h2m1 0h2m1 0h2m1 0h2m1 0h1m2 0h1m8 0h1m-161 1h2m3 0h1m1 0h1m1 0h2m1 0h1m1 0h1m1 0h3m2 0h2m2 0h2m2 0h1m1 0h1m2 0h1m1 0h1m3 0h1m1 0h2m1 0h1m1 0h1m2 0h1m2 0h2m1 0h1m3 0h1m2 0h1m2 0h1m7 0h1m5 0h1m9 0h3m8 0h1m6 0h1m4 0h1m4 0h1m7 0h1m4 0h1m4 0h1m1 0h2m1 0h2m1 0h1m1 0h1m1 0h1m1 0h1m8 0h1m-160 1h1m4 0h2m1 0h6m2 0h3m1 0h3m1 0h3m1 0h1m1 0h1m2 0h1m1 0h1m3 0h3m1 0h1m1 0h2m2 0h1m2 0h2m2 0h1m2 0h1m3 0h1m1 0h1m7 0h1m5 0h1m9 0h1m1 0h2m7 0h1m6 0h1m5 0h1m4 0h1m7 0h1m3 0h1m4 0h1m1 0h2m1 0h1m1 0h1m1 0h2m2 0h1m1 0h1m8 0h1m-160 1h1m3 0h3m1 0h6m1 0h3m2 0h2m2 0h2m2 0h1m1 0h1m1 0h1m1 0h2m2 0h3m1 0h1m1 0h2m3 0h1m1 0h3m1 0h1m2 0h1m3 0h1m2 0h1m7 0h1m5 0h1m8 0h1m1 0h1m1 0h1m6 0h1m6 0h1m6 0h1m4 0h1m6 0h1m4 0h1m3 0h2m1 0h1m2 0h2m2 0h2m1 0h1m1 0h1m8 0h1m-160 1h2m3 0h2m1 0h5m1 0h1m1 0h3m1 0h3m1 0h1m1 0h1m1 0h1m1 0h1m1 0h1m1 0h2m3 0h1m1 0h1m1 0h2m1 0h1m2 0h1m1 0h3m2 0h1m1 0h1m3 0h1m3 0h1m6 0h1m5 0h1m7 0h2m2 0h2m7 0h1m6 0h1m5 0h1m4 0h1m7 0h1m3 0h1m4 0h1m1 0h2m1 0h2m2 0h2m2 0h1m1 0h1m8 0h1m-160 1h2m2 0h3m1 0h5m1 0h2m1 0h2m1 0h2m2 0h3m1 0h1m1 0h2m1 0h3m2 0h1m1 0h1m1 0h2m1 0h1m3 0h3m1 0h1m1 0h1m1 0h1m3 0h1m4 0h1m6 0h1m5 0h1m6 0h1m3 0h1m1 0h1m6 0h1m6 0h1m6 0h1m4 0h1m6 0h1m4 0h1m3 0h2m1 0h1m2 0h1m3 0h2m1 0h1m1 0h1m8 0h1m-159 1h1m3 0h2m1 0h2m1 0h4m1 0h3m1 0h3m1 0h1m1 0h1m1 0h1m1 0h2m1 0h3m2 0h3m2 0h3m3 0h3m1 0h1m2 0h2m4 0h1m3 0h1m6 0h1m5 0h1m6 0h1m4 0h1m1 0h1m5 0h1m6 0h1m7 0h1m4 0h1m6 0h1m3 0h1m3 0h2m1 0h1m2 0h2m3 0h1m2 0h1m1 0h1m8 0h1m-159 1h1m3 0h2m1 0h1m1 0h3m1 0h2m1 0h2m1 0h1m1 0h1m1 0h4m1 0h2m1 0h1m1 0h2m2 0h1m1 0h1m1 0h2m1 0h1m3 0h2m2 0h1m1 0h2m4 0h1m4 0h1m5 0h1m5 0h1m6 0h1m4 0h1m1 0h1m6 0h1m6 0h1m6 0h1m4 0h1m6 0h1m4 0h1m3 0h1m1 0h1m2 0h2m3 0h2m2 0h2m8 0h1m-158 1h1m2 0h2m1 0h2m1 0h3m1 0h8m1 0h1m1 0h3m1 0h2m1 0h3m2 0h1m1 0h1m2 0h1m1 0h1m3 0h2m2 0h1m1 0h2m4 0h1m5 0h1m5 0h1m5 0h1m5 0h1m5 0h1m1 0h1m5 0h1m6 0h1m7 0h1m4 0h1m6 0h1m3 0h1m3 0h4m2 0h1m4 0h1m2 0h1m1 0h1m8 0h1m-159 1h2m2 0h2m1 0h1m2 0h1m1 0h1m1 0h1m1 0h4m1 0h1m1 0h4m1 0h2m1 0h2m1 0h1m1 0h1m1 0h1m2 0h1m1 0h1m3 0h3m2 0h3m4 0h1m6 0h1m4 0h1m5 0h1m5 0h1m5 0h1m2 0h1m4 0h1m6 0h1m8 0h1m4 0h1m5 0h1m4 0h1m2 0h4m2 0h1m5 0h1m2 0h2m8 0h1m-158 1h1m2 0h2m1 0h2m1 0h3m1 0h8m1 0h1m1 0h3m1 0h1m1 0h1m1 0h2m2 0h1m1 0h1m2 0h1m1 0h1m2 0h3m2 0h2m1 0h1m4 0h1m5 0h1m5 0h1m5 0h1m4 0h1m6 0h1m1 0h1m5 0h1m6 0h1m7 0h1m4 0h1m6 0h1m3 0h1m3 0h2m1 0h1m2 0h1m4 0h1m2 0h1m1 0h1m8 0h1m-158 1h1m2 0h2m1 0h1m2 0h1m1 0h1m1 0h1m1 0h4m1 0h1m1 0h4m1 0h3m1 0h1m1 0h1m1 0h1m1 0h1m2 0h1m1 0h1m2 0h1m1 0h1m3 0h1m1 0h1m4 0h1m6 0h1m4 0h1m5 0h1m4 0h1m6 0h1m2 0h1m4 0h1m6 0h1m8 0h1m4 0h1m5 0h1m4 0h1m2 0h2m1 0h1m2 0h1m5 0h1m2 0h2m8 0h1m-157 1h1m2 0h2m1 0h1m2 0h3m1 0h2m1 0h3m1 0h1m1 0h3m1 0h1m1 0h3m1 0h3m1 0h1m2 0h1m1 0h1m2 0h1m1 0h1m3 0h1m1 0h1m4 0h1m6 0h1m4 0h1m5 0h1m4 0h1m6 0h1m3 0h1m4 0h1m6 0h1m7 0h1m4 0h1m5 0h1m4 0h1m2 0h2m1 0h1m2 0h1m5 0h1m2 0h2m8 0h1m-157 1h1m3 0h1m1 0h1m2 0h1m1 0h1m1 0h1m1 0h4m1 0h1m1 0h4m1 0h3m1 0h1m1 0h1m1 0h1m1 0h1m2 0h1m1 0h1m2 0h1m1 0h1m2 0h1m2 0h1m3 0h1m6 0h1m5 0h1m5 0h1m4 0h1m6 0h1m2 0h1m4 0h1m6 0h1m8 0h1m4 0h1m4 0h1m5 0h1m1 0h2m2 0h1m1 0h1m5 0h1m2 0h2m9 0h1m-157 1h1m2 0h2m1 0h1m2 0h3m1 0h2m1 0h3m1 0h1m1 0h3m1 0h1m1 0h3m1 0h3m1 0h1m2 0h1m1 0h1m2 0h1m1 0h1m2 0h1m2 0h1m3 0h1m6 0h1m5 0h1m5 0h1m4 0h1m6 0h1m3 0h1m4 0h1m6 0h1m7 0h1m4 0h1m5 0h1m4 0h1m1 0h2m2 0h1m1 0h1m5 0h1m2 0h1m1 0h1m8 0h1m-156 1h1m2 0h2m1 0h1m1 0h1m1 0h2m1 0h6m1 0h5m1 0h3m1 0h3m1 0h1m1 0h1m2 0h2m2 0h1m1 0h1m3 0h1m2 0h1m3 0h1m6 0h1m4 0h1m6 0h1m4 0h1m6 0h1m2 0h1m5 0h1m5 0h1m8 0h1m4 0h1m4 0h1m4 0h1m2 0h1m2 0h1m2 0h1m5 0h1m2 0h2m8 0h1m-155 1h1m2 0h1m1 0h1m2 0h2m1 0h3m1 0h2m1 0h2m1 0h3m1 0h1m1 0h3m1 0h3m1 0h1m2 0h1m1 0h1m2 0h3m2 0h1m2 0h1m3 0h1m6 0h1m4 0h1m6 0h1m4 0h1m6 0h1m3 0h1m5 0h1m5 0h1m7 0h1m4 0h1m4 0h1m4 0h1m2 0h1m2 0h1m2 0h1m5 0h1m2 0h2m8 0h1m-155 1h1m3 0h1m1 0h1m1 0h2m1 0h1m1 0h1m1 0h4m1 0h3m1 0h2m2 0h4m1 0h2m1 0h1m2 0h2m2 0h1m1 0h1m2 0h1m2 0h1m3 0h1m6 0h1m5 0h1m6 0h1m3 0h1m6 0h1m3 0h1m5 0h1m5 0h1m8 0h1m3 0h1m4 0h1m5 0h1m1 0h1m3 0h1m1 0h1m5 0h1m2 0h2m9 0h1m-155 1h1m3 0h1m1 0h1m1 0h2m1 0h1m1 0h1m1 0h2m1 0h1m1 0h4m1 0h1m1 0h4m1 0h2m1 0h1m2 0h2m2 0h1m1 0h1m2 0h1m3 0h1m2 0h1m6 0h1m5 0h1m6 0h1m4 0h1m6 0h1m3 0h1m5 0h1m5 0h1m7 0h1m4 0h1m3 0h1m5 0h1m1 0h1m3 0h1m1 0h1m5 0h1m2 0h2m9 0h1m-154 1h1m2 0h1m1 0h1m1 0h2m2 0h2m1 0h3m1 0h4m1 0h2m2 0h4m1 0h2m1 0h1m2 0h2m2 0h3m1 0h1m3 0h1m2 0h1m6 0h1m5 0h1m7 0h1m3 0h1m6 0h1m3 0h1m6 0h1m4 0h1m8 0h1m3 0h1m4 0h1m4 0h1m1 0h2m2 0h1m1 0h1m5 0h1m2 0h1m1 0h1m8 0h1m-153 1h1m2 0h1m1 0h1m1 0h2m2 0h2m1 0h2m2 0h5m1 0h1m1 0h4m1 0h2m1 0h1m2 0h2m2 0h3m1 0h1m4 0h1m1 0h1m6 0h1m5 0h1m7 0h1m4 0h1m6 0h1m3 0h1m6 0h1m4 0h1m7 0h1m4 0h1m3 0h1m4 0h1m1 0h2m2 0h1m1 0h1m5 0h1m2 0h1m1 0h1m8 0h1m-153 1h1m3 0h1m1 0h3m2 0h6m1 0h1m1 0h2m1 0h2m2 0h3m2 0h2m1 0h1m2 0h1m2 0h1m1 0h1m1 0h1m4 0h1m1 0h1m6 0h1m6 0h1m7 0h1m3 0h1m6 0h1m3 0h1m6 0h1m4 0h1m8 0h1m3 0h1m3 0h1m5 0h3m3 0h2m5 0h1m2 0h1m1 0h1m9 0h1m-153 1h1m2 0h3m1 0h1m3 0h2m1 0h2m2 0h6m3 0h3m2 0h1m1 0h1m2 0h2m2 0h4m4 0h1m1 0h1m6 0h1m6 0h1m7 0h1m3 0h1m6 0h1m4 0h1m6 0h1m4 0h1m7 0h1m3 0h1m3 0h1m5 0h3m3 0h2m5 0h1m2 0h1m1 0h1m9 0h1m-152 1h1m2 0h5m3 0h5m2 0h3m1 0h2m2 0h3m2 0h2m1 0h1m2 0h1m2 0h3m1 0h1m4 0h1m1 0h1m6 0h1m5 0h1m8 0h1m3 0h1m6 0h1m3 0h1m7 0h1m3 0h1m8 0h1m3 0h1m2 0h1m5 0h1m1 0h1m3 0h1m1 0h1m5 0h1m2 0h2m9 0h1m-151 1h1m2 0h1m1 0h2m3 0h5m3 0h5m3 0h2m3 0h1m1 0h1m2 0h1m2 0h3m1 0h1m4 0h1m1 0h1m6 0h1m5 0h1m8 0h1m3 0h1m6 0h1m4 0h1m7 0h1m3 0h1m7 0h1m3 0h1m3 0h1m4 0h1m1 0h1m3 0h1m1 0h1m5 0h1m2 0h1m1 0h1m8 0h1m-151 1h1m2 0h5m3 0h5m2 0h3m1 0h2m2 0h3m2 0h2m1 0h1m2 0h1m2 0h4m5 0h2m6 0h1m6 0h1m8 0h1m3 0h1m6 0h1m3 0h1m7 0h1m3 0h1m8 0h1m3 0h1m2 0h1m5 0h2m4 0h2m5 0h1m2 0h1m1 0h1m9 0h1m-151 1h1m2 0h4m3 0h5m3 0h5m3 0h2m3 0h1m1 0h1m2 0h1m2 0h4m5 0h2m6 0h1m6 0h1m8 0h1m3 0h1m6 0h1m4 0h1m7 0h1m3 0h1m7 0h1m3 0h1m2 0h1m5 0h2m4 0h2m5 0h1m2 0h1m1 0h1m9 0h1m-150 1h1m2 0h4m2 0h1m1 0h1m1 0h1m4 0h5m3 0h2m2 0h2m1 0h1m1 0h1m2 0h4m5 0h2m6 0h1m6 0h1m8 0h1m3 0h1m6 0h1m4 0h1m8 0h1m3 0h1m6 0h1m3 0h1m2 0h1m5 0h2m4 0h2m5 0h1m2 0h1m1 0h1m9 0h1m-149 1h1m1 0h4m3 0h5m3 0h5m3 0h2m3 0h1m1 0h1m1 0h2m1 0h4m6 0h2m6 0h1m6 0h1m8 0h1m3 0h1m6 0h1m4 0h1m7 0h1m3 0h1m7 0h1m3 0h1m2 0h1m5 0h1m4 0h2m5 0h1m2 0h1m1 0h1m10 0h1m-150 1h1m2 0h4m2 0h1m1 0h1m1 0h1m4 0h5m3 0h2m2 0h2m1 0h1m1 0h1m2 0h1m1 0h2m5 0h2m6 0h1m6 0h1m8 0h1m3 0h1m6 0h1m4 0h1m8 0h1m3 0h1m6 0h1m3 0h1m2 0h1m5 0h1m4 0h1m1 0h1m4 0h1m2 0h1m1 0h1m10 0h1m-149 1h1m2 0h1m1 0h2m2 0h5m3 0h5m3 0h2m3 0h1m1 0h1m1 0h1m2 0h4m5 0h2m6 0h1m7 0h1m7 0h1m4 0h1m6 0h1m4 0h1m8 0h1m3 0h1m5 0h1m3 0h1m2 0h1m5 0h2m4 0h2m4 0h1m2 0h1m1 0h1m10 0h1m-148 1h1m1 0h4m2 0h1m1 0h1m1 0h1m4 0h5m3 0h2m2 0h2m1 0h2m2 0h4m5 0h1m1 0h1m6 0h1m6 0h1m7 0h1m4 0h1m6 0h1m4 0h1m8 0h1m3 0h1m6 0h1m3 0h1m1 0h1m5 0h2m4 0h2m4 0h1m2 0h1m1 0h1m11 0h1m-148 1h1m1 0h4m2 0h5m3 0h5m3 0h2m3 0h2m1 0h2m1 0h4m6 0h2m6 0h1m6 0h1m8 0h1m3 0h1m6 0h1m4 0h1m9 0h1m3 0h1m5 0h1m3 0h1m2 0h1m4 0h2m4 0h2m4 0h1m2 0h1m1 0h1m11 0h1m-147 1h1m1 0h1m1 0h2m1 0h1m1 0h1m1 0h2m2 0h2m1 0h3m2 0h3m2 0h2m1 0h2m1 0h4m6 0h2m6 0h1m7 0h1m7 0h1m4 0h1m6 0h1m4 0h1m9 0h1m3 0h1m4 0h1m3 0h1m2 0h1m4 0h3m3 0h2m4 0h1m2 0h1m1 0h1m11 0h1m-147 1h1m1 0h4m2 0h5m3 0h5m3 0h2m3 0h2m1 0h1m2 0h1m1 0h2m5 0h1m1 0h1m6 0h1m6 0h1m7 0h1m4 0h1m6 0h1m4 0h1m9 0h1m3 0h1m5 0h1m3 0h1m1 0h1m5 0h2m3 0h1m1 0h1m4 0h3m1 0h1m12 0h1m-147 1h1m1 0h1m1 0h2m1 0h1m1 0h1m1 0h2m2 0h2m1 0h3m2 0h3m2 0h2m1 0h1m2 0h1m1 0h2m5 0h1m1 0h1m6 0h1m7 0h1m6 0h1m5 0h1m6 0h1m4 0h1m9 0h1m3 0h1m4 0h1m3 0h1m1 0h1m5 0h1m1 0h1m2 0h1m1 0h1m4 0h2m2 0h1m12 0h1m-146 1h1m1 0h1m1 0h2m1 0h6m1 0h3m1 0h3m1 0h1m1 0h2m2 0h4m1 0h1m1 0h2m6 0h2m6 0h1m7 0h1m7 0h1m4 0h1m6 0h1m4 0h1m10 0h1m3 0h1m3 0h1m3 0h1m2 0h1m4 0h1m1 0h1m2 0h1m1 0h1m4 0h2m2 0h1m12 0h1m-145 1h5m1 0h2m1 0h3m2 0h6m2 0h3m2 0h1m1 0h4m1 0h2m6 0h1m1 0h1m6 0h1m6 0h1m7 0h1m4 0h1m6 0h1m4 0h1m10 0h1m3 0h1m4 0h1m3 0h1m1 0h1m4 0h1m1 0h1m2 0h1m1 0h1m4 0h2m2 0h1m13 0h1m-145 1h2m1 0h2m1 0h6m1 0h3m1 0h3m1 0h1m1 0h2m2 0h8m6 0h1m1 0h1m6 0h1m7 0h1m6 0h1m5 0h1m6 0h1m4 0h1m10 0h1m3 0h1m3 0h1m3 0h1m1 0h1m4 0h2m1 0h1m2 0h2m4 0h2m2 0h1m13 0h1m-145 1h1m1 0h1m1 0h4m1 0h2m1 0h5m1 0h4m1 0h3m1 0h1m1 0h1m1 0h2m1 0h2m5 0h1m1 0h1m6 0h1m7 0h1m6 0h1m5 0h1m6 0h1m4 0h1m11 0h1m3 0h1m2 0h1m3 0h1m1 0h1m4 0h2m1 0h1m2 0h1m1 0h1m3 0h2m2 0h1m13 0h1m-144 1h2m1 0h2m1 0h6m1 0h3m1 0h3m1 0h1m1 0h2m2 0h5m1 0h2m6 0h1m1 0h1m6 0h1m7 0h1m6 0h1m5 0h1m6 0h1m4 0h1m10 0h1m3 0h1m3 0h1m3 0h1m1 0h1m3 0h2m2 0h1m1 0h1m1 0h1m3 0h2m2 0h1m14 0h1m-144 1h2m1 0h4m1 0h2m1 0h5m1 0h4m1 0h3m1 0h3m1 0h1m1 0h2m6 0h1m1 0h1m6 0h1m7 0h1m6 0h1m5 0h1m6 0h1m4 0h1m11 0h1m3 0h1m2 0h1m3 0h1m1 0h1m3 0h2m2 0h1m1 0h1m1 0h1m3 0h2m2 0h1m14 0h1m-143 1h2m1 0h4m1 0h2m1 0h5m1 0h4m1 0h3m1 0h3m1 0h1m1 0h2m6 0h1m1 0h1m5 0h1m8 0h1m6 0h1m4 0h1m6 0h1m4 0h1m11 0h1m3 0h1m1 0h2m2 0h2m1 0h1m3 0h2m2 0h5m2 0h3m2 0h1m14 0h1m-142 1h2m1 0h6m1 0h10m1 0h3m1 0h3m1 0h4m6 0h1m1 0h1m6 0h1m7 0h1m6 0h1m5 0h1m5 0h1m4 0h1m10 0h2m3 0h1m1 0h1m3 0h1m2 0h1m3 0h2m2 0h4m3 0h3m1 0h2m13 0h2m-142 1h3m1 0h6m1 0h10m1 0h3m1 0h3m1 0h4m6 0h1m1 0h1m5 0h1m8 0h1m6 0h1m4 0h1m5 0h1m5 0h1m9 0h1m4 0h1m1 0h1m2 0h2m2 0h1m2 0h3m2 0h4m3 0h2m2 0h1m14 0h1m-140 1h2m1 0h4m1 0h3m1 0h2m1 0h1m1 0h7m1 0h3m2 0h2m1 0h1m5 0h1m1 0h1m6 0h1m7 0h2m6 0h1m4 0h1m4 0h1m5 0h1m9 0h1m4 0h3m2 0h1m2 0h2m2 0h3m1 0h5m2 0h3m2 0h1m14 0h1m-139 1h2m1 0h5m1 0h3m1 0h6m1 0h4m1 0h3m1 0h4m6 0h1m1 0h1m5 0h1m8 0h2m6 0h1m3 0h1m4 0h1m5 0h1m9 0h1m4 0h2m2 0h2m2 0h1m3 0h2m2 0h4m3 0h3m1 0h2m14 0h1m-138 1h2m1 0h7m1 0h10m1 0h6m1 0h4m5 0h1m1 0h1m6 0h1m8 0h1m6 0h1m4 0h1m3 0h1m5 0h1m8 0h2m4 0h2m2 0h1m3 0h1m3 0h2m1 0h5m2 0h3m2 0h1m14 0h2m-137 1h2m1 0h7m1 0h2m1 0h9m1 0h3m2 0h2m1 0h1m5 0h1m1 0h1m5 0h1m8 0h2m6 0h1m3 0h1m3 0h1m5 0h1m8 0h1m5 0h1m2 0h2m3 0h1m3 0h2m1 0h1m1 0h2m3 0h1m1 0h1m2 0h1m14 0h1m-136 1h3m1 0h2m1 0h1m1 0h1m1 0h1m1 0h2m1 0h3m1 0h1m1 0h6m1 0h4m5 0h1m1 0h1m6 0h1m8 0h2m6 0h1m3 0h1m2 0h1m6 0h1m7 0h1m4 0h2m1 0h2m4 0h1m2 0h8m3 0h3m1 0h2m14 0h1m-135 1h3m1 0h2m1 0h1m1 0h1m1 0h4m1 0h3m1 0h3m1 0h3m2 0h4m5 0h1m1 0h1m5 0h1m8 0h1m1 0h1m6 0h1m2 0h1m2 0h1m6 0h1m6 0h2m4 0h2m1 0h1m5 0h1m2 0h4m1 0h3m2 0h3m2 0h1m14 0h2m-134 1h6m1 0h2m2 0h2m1 0h1m1 0h4m1 0h6m2 0h4m4 0h1m1 0h1m6 0h1m8 0h2m6 0h1m3 0h1m1 0h1m6 0h1m6 0h1m5 0h1m1 0h2m5 0h1m2 0h3m2 0h2m3 0h1m1 0h1m2 0h1m14 0h1m-132 1h5m1 0h3m1 0h1m1 0h2m1 0h3m1 0h1m1 0h6m1 0h4m5 0h1m1 0h1m5 0h1m9 0h2m6 0h1m2 0h1m1 0h1m6 0h1m6 0h1m4 0h2m1 0h1m5 0h2m2 0h3m1 0h3m2 0h4m1 0h2m14 0h1m-131 1h2m1 0h2m1 0h3m1 0h4m1 0h11m2 0h4m4 0h1m1 0h1m6 0h1m8 0h1m1 0h1m6 0h1m2 0h2m6 0h1m6 0h1m4 0h4m5 0h1m3 0h2m2 0h2m3 0h1m1 0h1m2 0h1m15 0h1m-131 1h3m1 0h2m1 0h3m1 0h4m1 0h11m2 0h4m4 0h1m1 0h1m5 0h1m9 0h1m1 0h1m6 0h1m1 0h2m7 0h1m4 0h2m4 0h3m6 0h1m2 0h3m2 0h2m3 0h1m1 0h1m2 0h1m14 0h2m-130 1h5m1 0h3m1 0h4m1 0h11m2 0h2m1 0h1m4 0h1m1 0h1m6 0h1m8 0h1m1 0h1m6 0h1m2 0h1m7 0h1m4 0h1m4 0h4m6 0h1m2 0h3m1 0h3m2 0h4m1 0h2m14 0h1m-128 1h5m1 0h3m1 0h4m1 0h11m2 0h2m1 0h1m4 0h1m1 0h1m5 0h1m9 0h1m1 0h1m6 0h1m1 0h1m7 0h1m4 0h1m4 0h1m1 0h1m7 0h1m2 0h1m1 0h1m1 0h3m2 0h1m1 0h1m2 0h1m15 0h1m-127 1h5m1 0h3m1 0h3m2 0h11m2 0h2m1 0h1m4 0h1m1 0h1m5 0h1m8 0h1m2 0h1m6 0h2m7 0h1m4 0h1m4 0h3m7 0h1m2 0h1m1 0h5m2 0h1m1 0h1m2 0h1m15 0h1m-126 1h4m1 0h3m1 0h1m1 0h2m1 0h11m2 0h4m4 0h1m1 0h1m5 0h1m9 0h1m1 0h1m6 0h3m6 0h1m4 0h1m4 0h3m6 0h2m1 0h2m1 0h3m1 0h1m1 0h4m1 0h2m15 0h1m-125 1h1m1 0h2m1 0h3m1 0h3m2 0h5m1 0h5m2 0h2m1 0h1m4 0h1m1 0h1m5 0h1m8 0h1m2 0h1m6 0h2m6 0h1m4 0h1m3 0h4m6 0h1m2 0h1m1 0h6m1 0h1m1 0h1m2 0h1m16 0h1m-125 1h5m1 0h3m1 0h3m2 0h10m3 0h2m1 0h1m3 0h1m1 0h1m6 0h1m8 0h1m2 0h1m5 0h2m6 0h1m3 0h2m3 0h2m2 0h1m5 0h1m2 0h1m1 0h3m1 0h1m2 0h1m1 0h1m2 0h1m16 0h1m-124 1h5m1 0h4m1 0h1m2 0h3m1 0h7m3 0h2m1 0h1m3 0h1m1 0h1m5 0h1m8 0h1m3 0h1m5 0h2m5 0h1m3 0h1m4 0h2m2 0h1m5 0h1m1 0h2m1 0h3m1 0h1m2 0h1m1 0h1m2 0h1m16 0h1m-123 1h4m1 0h3m1 0h1m1 0h1m2 0h5m1 0h1m1 0h3m2 0h4m4 0h2m6 0h1m8 0h1m2 0h1m5 0h2m5 0h1m3 0h1m4 0h1m3 0h1m4 0h2m1 0h1m2 0h2m2 0h1m1 0h4m1 0h2m16 0h1m-122 1h4m1 0h3m1 0h3m2 0h2m1 0h2m1 0h4m3 0h4m3 0h1m1 0h1m6 0h1m7 0h1m3 0h1m4 0h2m5 0h1m3 0h1m4 0h1m3 0h1m4 0h1m2 0h1m2 0h2m2 0h1m1 0h1m1 0h1m2 0h1m17 0h1m-121 1h1m1 0h2m1 0h4m1 0h1m2 0h3m1 0h7m3 0h2m1 0h1m3 0h2m6 0h1m8 0h1m3 0h1m4 0h2m5 0h1m2 0h1m3 0h2m3 0h1m4 0h1m1 0h2m1 0h3m1 0h2m1 0h1m1 0h1m2 0h1m16 0h2m-120 1h1m1 0h2m1 0h6m2 0h2m1 0h7m4 0h2m1 0h1m2 0h1m1 0h1m6 0h1m7 0h1m4 0h1m3 0h2m5 0h1m2 0h1m3 0h1m4 0h1m3 0h2m1 0h1m2 0h2m2 0h1m1 0h4m1 0h2m16 0h1m-118 1h1m1 0h1m1 0h3m1 0h3m1 0h3m1 0h7m3 0h4m3 0h2m7 0h1m7 0h1m3 0h1m3 0h3m4 0h1m2 0h1m2 0h2m4 0h1m3 0h1m2 0h1m2 0h2m2 0h1m1 0h1m1 0h1m2 0h1m17 0h1m-117 1h3m1 0h1m1 0h5m1 0h2m1 0h4m1 0h3m3 0h1m1 0h2m3 0h2m6 0h1m7 0h1m4 0h1m2 0h1m1 0h2m3 0h1m1 0h2m2 0h2m4 0h1m3 0h1m1 0h2m1 0h3m2 0h1m1 0h1m1 0h1m2 0h1m17 0h1m-117 1h4m1 0h1m1 0h8m1 0h7m4 0h1m1 0h2m2 0h2m7 0h1m7 0h1m4 0h1m1 0h1m1 0h2m3 0h1m1 0h1m2 0h3m5 0h1m2 0h1m1 0h1m2 0h3m2 0h1m1 0h1m1 0h1m2 0h1m17 0h1m-116 1h1m1 0h2m1 0h4m1 0h1m1 0h4m1 0h6m4 0h2m1 0h1m2 0h2m7 0h1m6 0h1m5 0h1m1 0h2m1 0h1m2 0h1m1 0h1m2 0h3m5 0h1m1 0h2m1 0h1m2 0h3m1 0h6m1 0h2m17 0h1m-115 1h3m1 0h1m1 0h8m1 0h7m4 0h1m1 0h2m2 0h2m7 0h1m7 0h1m4 0h1m1 0h1m1 0h2m2 0h1m1 0h1m1 0h3m6 0h1m1 0h1m1 0h2m1 0h4m1 0h1m1 0h1m1 0h1m2 0h1m18 0h1m-114 1h3m1 0h1m1 0h2m1 0h6m1 0h6m4 0h1m1 0h2m2 0h2m7 0h1m6 0h1m5 0h2m1 0h1m1 0h1m1 0h1m1 0h1m1 0h1m1 0h1m6 0h1m1 0h1m1 0h1m2 0h2m1 0h1m1 0h1m1 0h1m1 0h1m2 0h1m18 0h1m-113 1h3m1 0h1m1 0h2m1 0h2m1 0h2m2 0h5m4 0h1m1 0h2m2 0h2m7 0h1m6 0h1m4 0h15m5 0h6m2 0h2m1 0h5m1 0h1m2 0h1m17 0h2m-112 1h2m1 0h4m1 0h6m1 0h6m4 0h1m1 0h2m1 0h1m1 0h1m6 0h1m6 0h1m4 0h2m1 0h1m1 0h1m1 0h8m5 0h1m1 0h1m1 0h1m2 0h6m1 0h1m2 0h1m2 0h1m17 0h1m-111 1h3m1 0h1m1 0h2m1 0h2m1 0h2m2 0h5m4 0h1m1 0h2m1 0h1m1 0h1m6 0h1m5 0h2m3 0h3m1 0h1m1 0h9m5 0h6m2 0h8m2 0h1m2 0h1m16 0h2m-110 1h3m1 0h10m1 0h5m4 0h1m2 0h2m1 0h2m5 0h2m5 0h1m4 0h15m5 0h1m1 0h1m1 0h1m2 0h6m1 0h1m3 0h1m2 0h1m16 0h1m-108 1h7m1 0h2m1 0h2m2 0h5m3 0h1m2 0h2m1 0h2m5 0h2m5 0h1m3 0h3m1 0h1m1 0h4m1 0h5m4 0h6m1 0h2m1 0h3m1 0h2m3 0h1m2 0h1m15 0h2m-107 1h2m1 0h4m1 0h5m1 0h5m4 0h1m1 0h2m1 0h1m1 0h1m4 0h2m5 0h1m3 0h9m1 0h5m5 0h1m1 0h1m1 0h1m2 0h1m2 0h3m1 0h1m4 0h1m2 0h1m15 0h1m-105 1h2m1 0h6m1 0h2m2 0h5m3 0h1m2 0h3m1 0h1m4 0h2m5 0h1m2 0h3m1 0h1m1 0h4m1 0h5m5 0h3m1 0h1m1 0h2m2 0h2m1 0h2m4 0h1m2 0h1m15 0h1m-105 1h7m1 0h3m1 0h1m1 0h5m3 0h1m2 0h3m1 0h1m4 0h2m4 0h2m1 0h2m1 0h1m1 0h1m1 0h3m1 0h6m4 0h3m1 0h4m2 0h5m4 0h2m2 0h1m14 0h2m-104 1h9m1 0h3m1 0h5m2 0h1m3 0h2m1 0h1m4 0h1m5 0h1m2 0h1m1 0h7m1 0h3m1 0h2m5 0h2m2 0h1m1 0h1m3 0h2m1 0h1m5 0h1m3 0h1m14 0h1m-102 1h2m1 0h7m1 0h1m1 0h5m3 0h1m2 0h2m2 0h1m3 0h1m5 0h1m1 0h2m1 0h1m1 0h1m1 0h3m1 0h3m1 0h2m4 0h3m1 0h4m3 0h4m5 0h1m3 0h1m13 0h2m-101 1h6m1 0h5m1 0h5m2 0h1m2 0h2m2 0h1m2 0h2m5 0h1m1 0h1m1 0h7m1 0h3m2 0h2m4 0h2m2 0h3m3 0h4m6 0h1m3 0h1m13 0h1m-100 1h4m1 0h5m1 0h7m2 0h1m3 0h2m1 0h1m2 0h2m5 0h3m1 0h1m1 0h1m1 0h2m2 0h3m2 0h1m4 0h3m1 0h3m4 0h4m6 0h1m3 0h1m12 0h2m-99 1h18m1 0h1m3 0h2m1 0h1m2 0h2m4 0h3m2 0h1m1 0h1m1 0h2m1 0h4m1 0h2m4 0h2m2 0h3m3 0h4m7 0h1m3 0h1m12 0h1m-98 1h4m1 0h5m1 0h7m2 0h1m3 0h2m1 0h1m1 0h2m4 0h3m1 0h6m1 0h4m2 0h2m3 0h3m1 0h3m3 0h5m7 0h1m3 0h1m11 0h2m-97 1h4m1 0h13m1 0h1m3 0h2m1 0h1m1 0h2m4 0h2m2 0h1m1 0h1m1 0h1m2 0h2m1 0h1m2 0h1m4 0h2m2 0h2m4 0h1m1 0h3m7 0h1m3 0h1m11 0h1m-95 1h4m1 0h12m1 0h1m3 0h2m1 0h1m1 0h2m3 0h3m1 0h6m1 0h5m1 0h2m3 0h3m2 0h2m3 0h2m1 0h3m7 0h1m3 0h1m11 0h1m-94 1h17m1 0h1m2 0h1m1 0h2m1 0h2m3 0h2m2 0h1m1 0h3m2 0h2m1 0h1m2 0h2m2 0h3m2 0h2m4 0h1m2 0h3m7 0h1m3 0h1m10 0h2m-94 1h4m1 0h12m1 0h1m2 0h7m3 0h2m1 0h6m1 0h3m1 0h1m1 0h2m3 0h3m1 0h2m4 0h2m1 0h4m7 0h1m3 0h1m10 0h1m-92 1h18m3 0h4m1 0h1m2 0h3m1 0h6m1 0h2m1 0h2m1 0h2m2 0h3m1 0h3m4 0h1m2 0h4m8 0h1m3 0h1m9 0h1m-91 1h16m1 0h1m2 0h4m1 0h1m2 0h2m1 0h6m1 0h3m1 0h1m1 0h3m1 0h4m1 0h3m3 0h2m1 0h3m1 0h1m8 0h1m3 0h1m9 0h1m-90 1h5m1 0h9m1 0h1m2 0h1m1 0h2m1 0h1m1 0h3m1 0h6m1 0h2m1 0h2m1 0h2m2 0h1m1 0h1m1 0h3m4 0h1m2 0h3m1 0h1m8 0h1m3 0h1m8 0h2m-89 1h16m2 0h1m1 0h2m1 0h1m1 0h2m1 0h6m1 0h3m1 0h1m2 0h2m1 0h6m1 0h1m3 0h2m1 0h4m1 0h1m8 0h1m3 0h1m8 0h1m-88 1h5m1 0h9m1 0h1m1 0h4m1 0h1m1 0h12m2 0h1m1 0h9m1 0h2m2 0h2m1 0h5m2 0h1m7 0h1m3 0h1m8 0h1m-87 1h16m1 0h4m1 0h13m2 0h2m1 0h2m1 0h1m1 0h3m2 0h1m3 0h1m2 0h1m1 0h1m1 0h1m2 0h1m7 0h1m3 0h1m7 0h2m-86 1h15m1 0h4m1 0h13m2 0h1m1 0h8m3 0h1m2 0h2m1 0h2m1 0h1m1 0h1m2 0h1m7 0h1m3 0h1m7 0h1m-84 1h2m1 0h1m1 0h14m1 0h6m1 0h5m2 0h2m1 0h4m1 0h3m2 0h2m2 0h1m2 0h1m2 0h3m2 0h1m7 0h1m3 0h1m7 0h1m-83 1h14m1 0h3m1 0h12m2 0h1m1 0h4m1 0h3m3 0h1m2 0h2m1 0h2m2 0h2m3 0h1m8 0h1m3 0h1m6 0h1m-83 1h14m1 0h3m1 0h5m1 0h1m1 0h3m3 0h1m1 0h1m1 0h2m1 0h2m4 0h1m2 0h1m2 0h1m2 0h3m3 0h1m8 0h1m3 0h1m5 0h2m-82 1h22m1 0h6m2 0h6m1 0h2m4 0h2m1 0h2m1 0h2m2 0h1m1 0h1m3 0h1m8 0h1m3 0h1m5 0h1m-80 1h20m2 0h1m1 0h1m1 0h1m3 0h1m1 0h1m1 0h1m2 0h1m5 0h1m2 0h1m1 0h2m3 0h1m1 0h1m2 0h2m7 0h2m2 0h2m5 0h1m-79 1h19m2 0h1m1 0h1m1 0h1m2 0h6m1 0h2m4 0h2m1 0h5m2 0h4m1 0h2m7 0h2m2 0h2m5 0h2m-78 1h19m1 0h1m1 0h1m1 0h1m2 0h1m1 0h1m1 0h1m1 0h2m4 0h2m1 0h5m2 0h4m1 0h2m7 0h2m2 0h2m5 0h2m-76 1h18m1 0h1m1 0h3m2 0h7m4 0h2m1 0h5m2 0h2m1 0h1m1 0h2m6 0h3m1 0h3m5 0h2m-74 1h17m1 0h1m1 0h2m2 0h5m1 0h1m4 0h2m1 0h5m2 0h2m1 0h4m6 0h2m2 0h2m6 0h2m-72 1h16m1 0h1m1 0h2m2 0h4m1 0h2m3 0h2m1 0h5m2 0h2m1 0h4m6 0h2m1 0h3m7 0h1m-70 1h11m1 0h5m1 0h2m1 0h7m3 0h2m1 0h2m1 0h2m2 0h2m2 0h3m5 0h3m1 0h2m8 0h2m-69 1h16m1 0h2m1 0h4m1 0h1m3 0h2m1 0h2m1 0h2m2 0h2m2 0h3m5 0h2m2 0h2m8 0h2m-68 1h11m1 0h7m1 0h6m2 0h5m1 0h2m2 0h2m2 0h3m5 0h2m1 0h3m8 0h2m-66 1h17m1 0h6m2 0h5m1 0h2m2 0h2m2 0h2m5 0h3m1 0h2m9 0h2m-64 1h16m1 0h5m2 0h5m1 0h2m2 0h2m2 0h3m4 0h2m1 0h3m10 0h1m-62 1h9m1 0h10m2 0h5m1 0h2m2 0h2m2 0h3m4 0h2m1 0h2m11 0h2m-61 1h19m1 0h5m1 0h2m2 0h2m2 0h3m3 0h3m1 0h2m11 0h2m-59 1h17m1 0h5m1 0h2m2 0h2m2 0h4m2 0h2m1 0h3m11 0h2m-57 1h15m1 0h2m1 0h2m1 0h2m2 0h2m2 0h4m2 0h2m1 0h2m12 0h2m-55 1h13m1 0h2m2 0h1m2 0h1m3 0h1m2 0h2m1 0h1m2 0h2m1 0h2m13 0h1"/>
</g>
<path class="k" d="M317 80.5h2m-2 1h2m-3 1h2m-2 1h2m-2 1h2m-3 1h2m-2 1h2m-2 1h2m-3 1h2m-2 1h2m-2 1h2m-3 1h2m-2 1h2m-2 1h2m-3 1h2m-2 1h2m-2 1h2m-3 1h2m-2 1h2m-2 1h2m-2 1h2m-3 1h2m-2 1h2m-2 1h2m-2 1h2m-3 1h2m-2 1h2m-2 1h2m-2 1h2m-3 1h2m-2 1h2m-2 1h2m-3 1h2m-2 1h2m-2 1h2m-2 1h2m-3 1h2m-2 1h2m-2 1h2m-2 1h2m-3 1h2m-2 1h2m-2 1h2m-2 1h2m-3 1h2m-2 1h2m-2 1h2m-2 1h2m-2 1h2m-3 1h2m-2 1h2m-2 1h2m-2 1h2m-2 1h2m-2 1h2m-2 1h2m-2 1h2m-3 1h2m-2 1h2m-2 1h2m-2 1h2m-2 1h2m-2 1h2m-2 1h2m-2 1h2m-2 1h2m-2 1h2m-2 1h2m-3 1h2m-2 1h2m-2 1h2m-2 1h2m-2 1h2m-2 1h2m-2 1h2m-2 1h2m-2 1h2m-3 1h2m-2 1h2m-3 1h2m-2 1h2m-3 1h2m-2 1h2m-3 1h2m-2 1h2m-3 1h2m-2 1h2m-3 1h2m-2 1h2m-3 1h2m-2 1h2m-2 1h2m-3 1h2m-2 1h2m-3 1h2m-2 1h2m-3 1h2m-2 1h2m-3 1h2m-2 1h2m-3 1h2m-2 1h2m-3 1h2m-2 1h2m-3 1h2m-2 1h2m-2 1h2m-3 1h2m-2 1h2m-2 1h2m-2 1h2m-3 1h2m-2 1h2m-2 1h2m-2 1h2m-3 1h2m-2 1h2m-2 1h2m-2 1h2m-3 1h2m-2 1h2m-3 1h2m-2 1h2m-3 1h2m-2 1h2m-3 1h2m-3 1h2m-2 1h2m-3 1h2m-2 1h2m-3 1h2m-3 1h2m-2 1h2m-3 1h2m-2 1h2m-3 1h2m-3 1h2m-2 1h2m-3 1h2m-2 1h2m-3 1h2m-3 1h2m-2 1h2m-3 1h2m-2 1h2m-3 1h2m-3 1h2m-2 1h2m-3 1h2m-2 1h2m-3 1h2m-2 1h2m-3 1h2m-2 1h2m-3 1h2m-2 1h2m-2 1h2m-3 1h2m-2 1h2m-3 1h2m-2 1h2m-2 1h2m-3 1h2m-2 1h2m-3 1h2m-2 1h2m-2 1h2m-3 1h2m-2 1h2m-2 1h2m-2 1h2m-3 1h2m-2 1h2m-2 1h2m-2 1h2m-3 1h2m-2 1h2m-2 1h2m-2 1h2m-3 1h2m-2 1h2m-3 1h2m-3 1h2m-3 1h2m-3 1h2m-3 1h2m-3 1h2m-3 1h2m-3 1h2m-3 1h2m-3 1h2m-3 1h2m-3 1h2m-3 1h2m-3 1h2m-3 1h2m-3 1h2m-3 1h2m-3 1h2m-3 1h2m-3 1h2m-3 1h2m-3 1h2m-2 1h2m-3 1h2m-3 1h2m-3 1h2m-3 1h2m-3 1h2m-3 1h2m-3 1h2m-3 1h2m-3 1h2m-3 1h2m-3 1h2m-3 1h2m-3 1h2m-3 1h2m-4 1h3m-4 1h3m-4 1h2m-3 1h2m-3 1h2m-3 1h2m-3 1h2m-3 1h2m-4 1h3m-4 1h3m-5 1h3m-4 1h3m-5 1h3m-4 1h3m-4 1h2m-4 1h3m-4 1h3m-5 1h3m-4 1h3m-5 1h3m-4 1h3m-5 1h3m-4 1h3m-5 1h3m-5 1h4m-6 1h4m-6 1h4m-5 1h3m-5 1h3m-5 1h4m-6 1h4m-6 1h4m-5 1h3m-5 1h3m-5 1h4m-6 1h4m-6 1h4m-6 1h4m-6 1h4m-6 1h4m-7 1h5m-7 1h5m-7 1h4m-7 1h5m-7 1h5m-7 1h4m-7 1h5m-7 1h5m-7 1h4m-7 1h5m-7 1h5m-7 1h4m-7 1h5m-7 1h5m-7 1h4m-6 1h4m-6 1h4m-7 1h5m-7 1h5m-7 1h4m-6 1h4m-6 1h4m-7 1h5m-7 1h5m-7 1h4m-6 1h4m-6 1h4m-6 1h4m-4 1h2"/>
<g class="f">
<rect x="65.5" y="65.5" width="550" height="310"/>
<line x1="128.5" y1="375" x2="128.5" y2="370"/>
<line x1="128.5" y1="66" x2="128.5" y2="71"/>
<line x1="181.5" y1="375" x2="181.5" y2="365"/>
<line x1="181.5" y1="66" x2="181.5" y2="76"/>
<line x1="234.5" y1="375" x2="234.5" y2="370"/>
<line x1="234.5" y1="66" x2="234.5" y2="71"/>
<line x1="287.5" y1="375" x2="287.5" y2="365"/>
<line x1="287.5" y1="66" x2="287.5" y2="76"/>
<line x1="340.5" y1="375" x2="340.5" y2="370"/>
<line x1="340.5" y1="66" x2="340.5" y2="71"/>
<line x1="393.5" y1="375" x2="393.5" y2="365"/>
<line x1="393.5" y1="66" x2="393.5" y2="76"/>
<line x1="446.5" y1="375" x2="446.5" y2="370"/>
<line x1="446.5" y1="66" x2="446.5" y2="71"/>
<line x1="499.5" y1="375" x2="499.5" y2="365"/>
<line x1="499.5" y1="66" x2="499.5" y2="76"/>
<line x1="552.5" y1="375" x2="552.5" y2="370"/>
<line x1="552.5" y1="66" x2="552.5" y2="71"/>
<line x1="605.5" y1="375" x2="605.5" y2="365"/>
<line x1="605.5" y1="66" x2="605.5" y2="76"/>
<line x1="66" y1="336.5" x2="71" y2="336.5"/>
<line x1="615" y1="336.5" x2="610" y2="336.5"/>
<line x1="66" y1="307.5" x2="71" y2="307.5"/>
<line x1="615" y1="307.5" x2="610" y2="307.5"/>
<line x1="66" y1="278.5" x2="71" y2="278.5"/>
<line x1="615" y1="278.5" x2="610" y2="278.5"/>
<line x1="66" y1="249.5" x2="71" y2="249.5"/>
<line x1="615" y1="249.5" x2="610" y2="249.5"/>
<line x1="66" y1="220.5" x2="76" y2="220.5"/>
<line x1="615" y1="220.5" x2="605" y2="220.5"/>
<line x1="66" y1="191.5" x2="71" y2="191.5"/>
<line x1="615" y1="191.5" x2="610" y2="191.5"/>
<line x1="66" y1="162.5" x2="71" y2="162.5"/>
<line x1="615" y1="162.5" x2="610" y2="162.5"/>
<line x1="66" y1="133.5" x2="71" y2="133.5"/>
<line x1="615" y1="133.5" x2="610" y2="133.5"/>
<line x1="66" y1="104.5" x2="71" y2="104.5"/>
<line x1="615" y1="104.5" x2="610" y2="104.5"/>
<line x1="66" y1="75.5" x2="76" y2="75.5"/>
<line x1="615" y1="75.5" x2="605" y2="75.5"/>
</g>
<text class="m" transform="translate(333,30.3) scale(1.168,1)" text-anchor="middle">T0989</text>
<text class="m" transform="translate(334,420) scale(1.168,1)" text-anchor="middle">Percent of Residues (CA)</text>
<text class="m" transform="translate(29.7,233.3) rotate(-90) scale(1.168,1)" text-anchor="middle">Distance Cutoff, A</text>
<text class="t" transform="translate(65.4,395.2) scale(1,1)" text-anchor="middle">0</text>
<text class="t" transform="translate(181.4,395.2) scale(1,1)" text-anchor="middle">20</text>
<text class="t" transform="translate(287.4,395.2) scale(1,1)" text-anchor="middle">40</text>
<text class="t" transform="translate(393.4,395.2) scale(1,1)" text-anchor="middle">60</text>
<text class="t" transform="translate(499.4,395.2) scale(1,1)" text-anchor="middle">80</text>
<text class="t" transform="translate(610.4,395.2) scale(1,1)" text-anchor="middle">100</text>
<text class="t" transform="translate(54.6,374.1) rotate(-90) scale(1,1)" text-anchor="middle">0</text>
<text class="t" transform="translate(54.6,219.1) rotate(-90) scale(1,1)" text-anchor="middle">5</text>
<text class="t" transform="translate(54.6,64.1) rotate(-90) scale(1,1)" text-anchor="middle">10</text>
</svg></body></html>
